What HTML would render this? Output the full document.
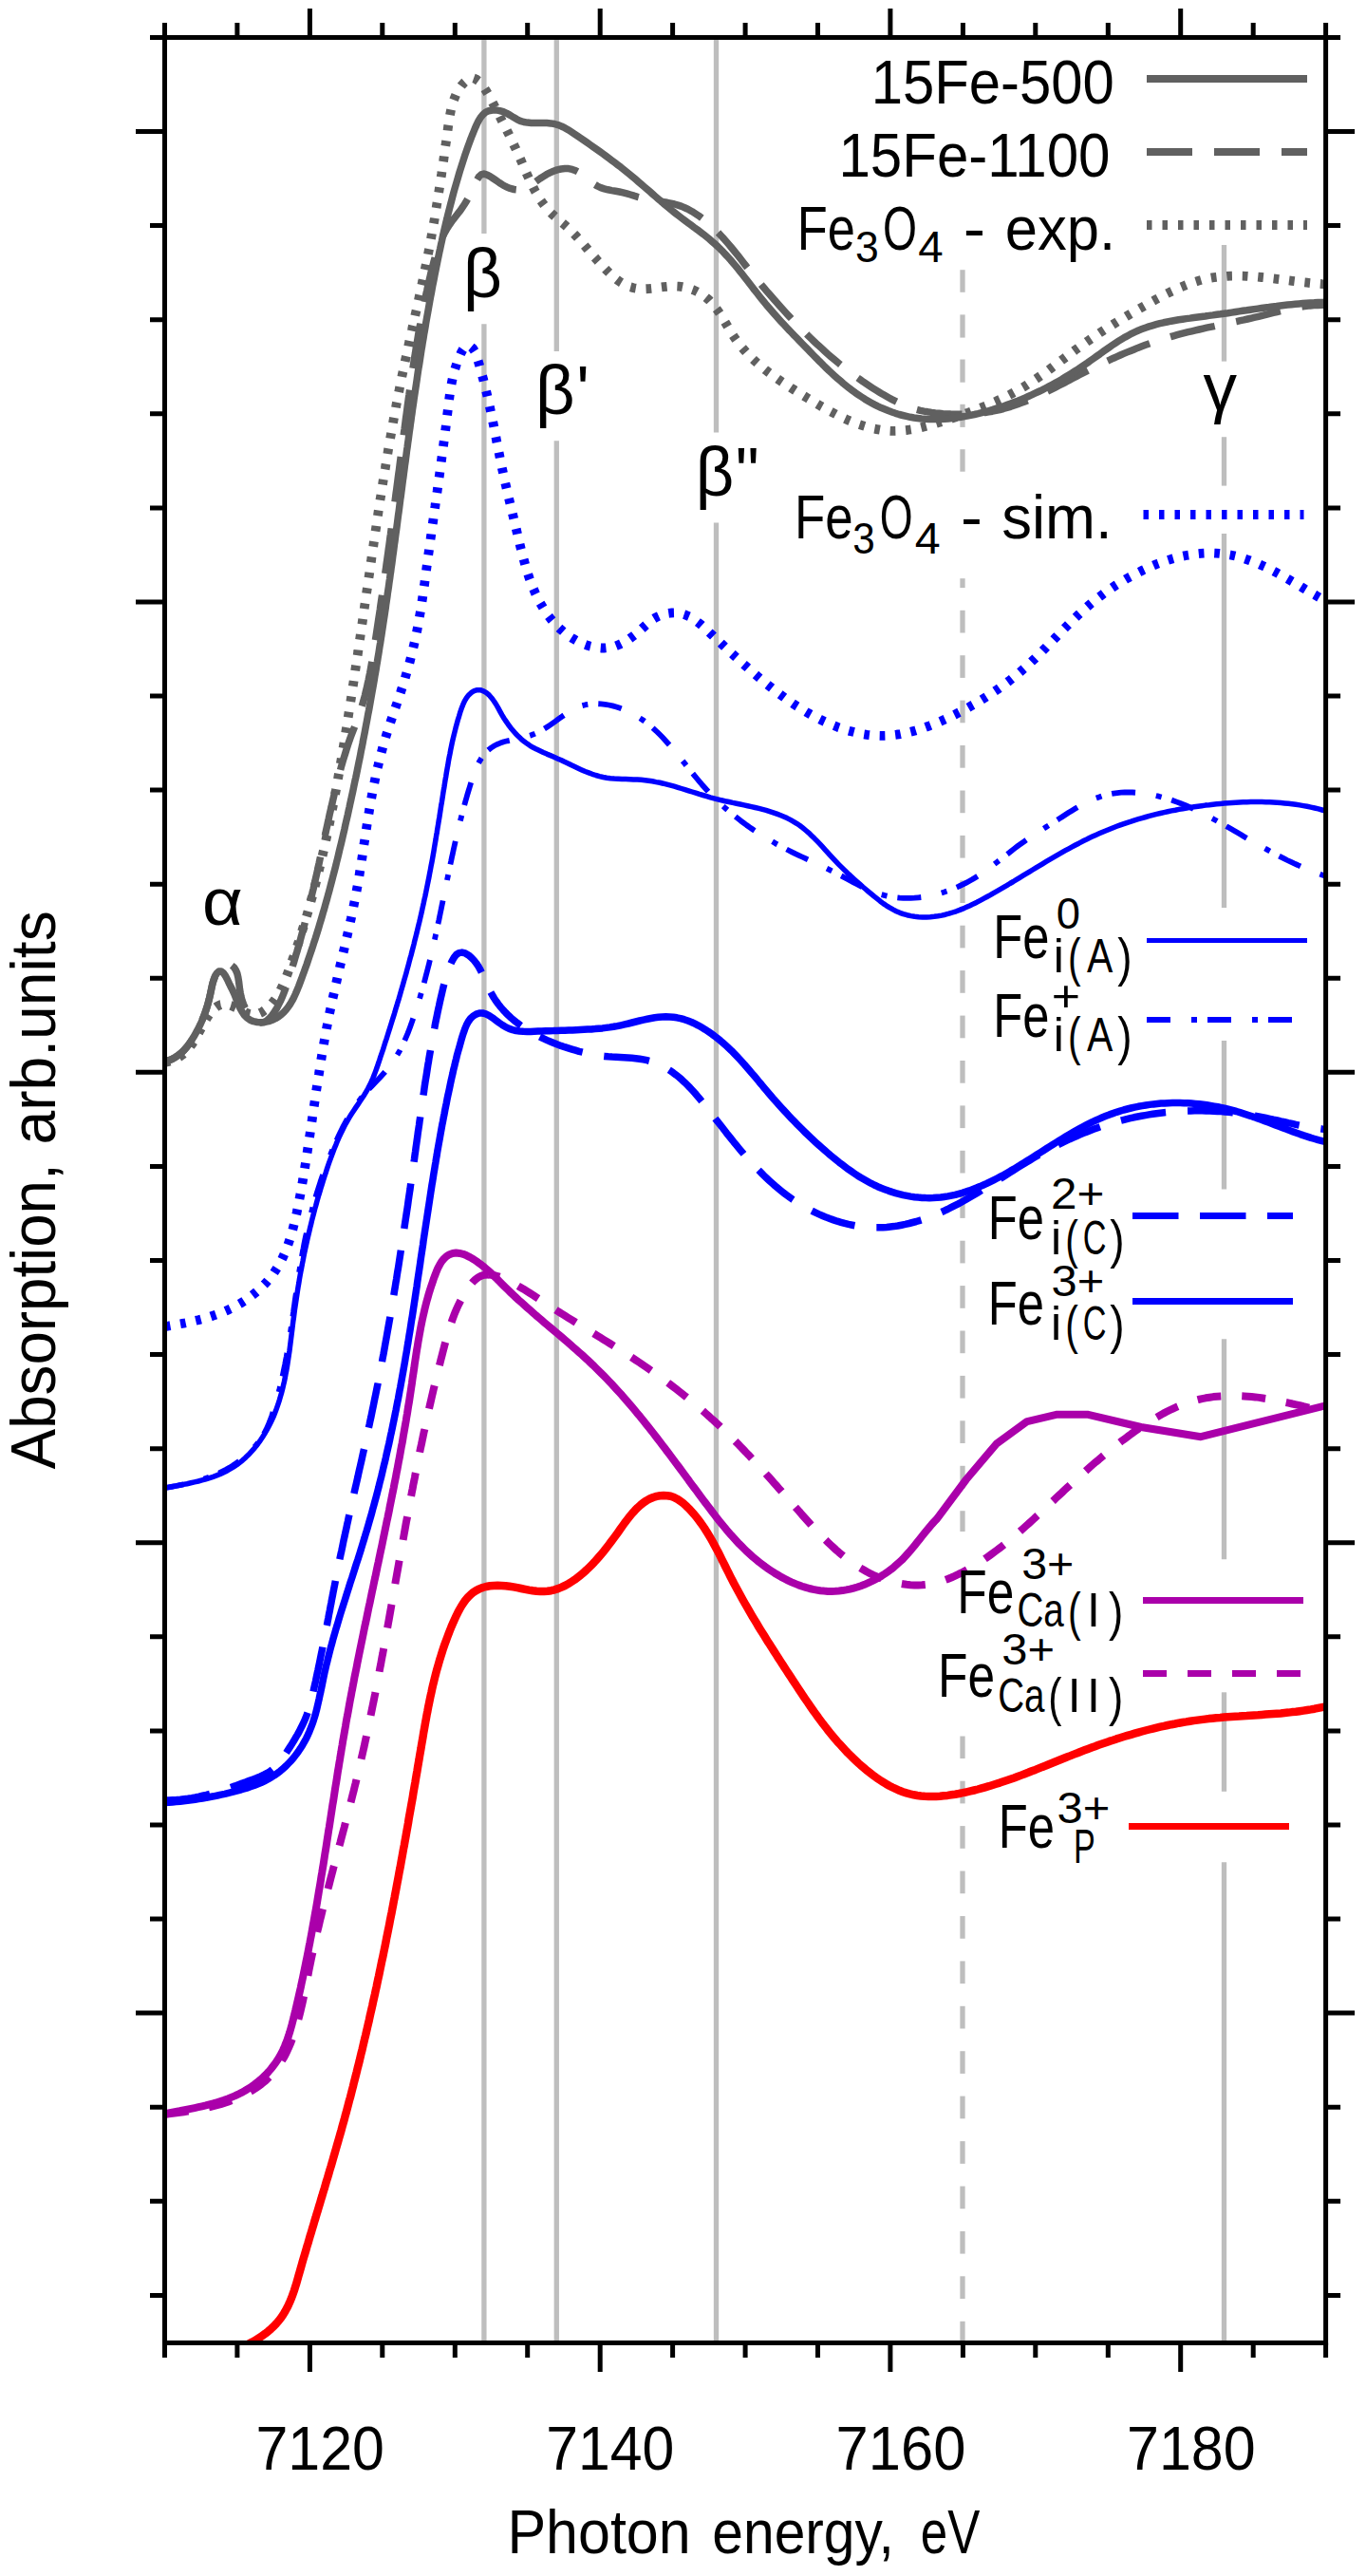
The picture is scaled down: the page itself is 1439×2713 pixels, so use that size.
<!DOCTYPE html>
<html><head><meta charset="utf-8"><title>XANES</title>
<style>html,body{margin:0;padding:0;background:#fff}svg{display:block}</style></head>
<body>
<svg width="1439" height="2713" viewBox="0 0 1439 2713" font-family='"Liberation Sans", sans-serif'>
<rect width="1439" height="2713" fill="#fff"/>
<defs><clipPath id="pc"><rect x="173.5" y="39.45" width="1223.1" height="2428.0"/></clipPath></defs>
<line x1="509.9" y1="39.5" x2="509.9" y2="246.0" stroke="#bebebe" stroke-width="5.3"/>
<line x1="509.9" y1="341.3" x2="509.9" y2="2467.4" stroke="#bebebe" stroke-width="5.3"/>
<line x1="586.3" y1="39.5" x2="586.3" y2="370.0" stroke="#bebebe" stroke-width="5.3"/>
<line x1="586.3" y1="464.3" x2="586.3" y2="2467.4" stroke="#bebebe" stroke-width="5.3"/>
<line x1="754.5" y1="39.5" x2="754.5" y2="455.5" stroke="#bebebe" stroke-width="5.3"/>
<line x1="754.5" y1="550.6" x2="754.5" y2="2467.4" stroke="#bebebe" stroke-width="5.3"/>
<line x1="1289.5" y1="258.0" x2="1289.5" y2="380.6" stroke="#bebebe" stroke-width="5.3"/>
<line x1="1289.5" y1="460.2" x2="1289.5" y2="511.6" stroke="#bebebe" stroke-width="5.3"/>
<line x1="1289.5" y1="562.1" x2="1289.5" y2="956.0" stroke="#bebebe" stroke-width="5.3"/>
<line x1="1289.5" y1="1096.0" x2="1289.5" y2="1252.5" stroke="#bebebe" stroke-width="5.3"/>
<line x1="1289.5" y1="1410.3" x2="1289.5" y2="1642.2" stroke="#bebebe" stroke-width="5.3"/>
<line x1="1289.5" y1="1782.3" x2="1289.5" y2="1886.8" stroke="#bebebe" stroke-width="5.3"/>
<line x1="1289.5" y1="1961.3" x2="1289.5" y2="2467.4" stroke="#bebebe" stroke-width="5.3"/>
<line x1="1014.0" y1="2444.8" x2="1014.0" y2="2467.4" stroke="#bebebe" stroke-width="5.3"/>
<line x1="1014.0" y1="2397.3" x2="1014.0" y2="2421.0" stroke="#bebebe" stroke-width="5.3"/>
<line x1="1014.0" y1="2349.9" x2="1014.0" y2="2373.6" stroke="#bebebe" stroke-width="5.3"/>
<line x1="1014.0" y1="2302.5" x2="1014.0" y2="2326.2" stroke="#bebebe" stroke-width="5.3"/>
<line x1="1014.0" y1="2255.1" x2="1014.0" y2="2278.8" stroke="#bebebe" stroke-width="5.3"/>
<line x1="1014.0" y1="2207.6" x2="1014.0" y2="2231.3" stroke="#bebebe" stroke-width="5.3"/>
<line x1="1014.0" y1="2160.2" x2="1014.0" y2="2183.9" stroke="#bebebe" stroke-width="5.3"/>
<line x1="1014.0" y1="2112.8" x2="1014.0" y2="2136.5" stroke="#bebebe" stroke-width="5.3"/>
<line x1="1014.0" y1="2065.4" x2="1014.0" y2="2089.1" stroke="#bebebe" stroke-width="5.3"/>
<line x1="1014.0" y1="2018.0" x2="1014.0" y2="2041.7" stroke="#bebebe" stroke-width="5.3"/>
<line x1="1014.0" y1="1970.5" x2="1014.0" y2="1994.2" stroke="#bebebe" stroke-width="5.3"/>
<line x1="1014.0" y1="1923.1" x2="1014.0" y2="1946.8" stroke="#bebebe" stroke-width="5.3"/>
<line x1="1014.0" y1="1875.7" x2="1014.0" y2="1899.4" stroke="#bebebe" stroke-width="5.3"/>
<line x1="1014.0" y1="1828.5" x2="1014.0" y2="1852.0" stroke="#bebebe" stroke-width="5.3"/>
<line x1="1014.0" y1="1591.2" x2="1014.0" y2="1613.0" stroke="#bebebe" stroke-width="5.3"/>
<line x1="1014.0" y1="1543.8" x2="1014.0" y2="1567.5" stroke="#bebebe" stroke-width="5.3"/>
<line x1="1014.0" y1="1496.3" x2="1014.0" y2="1520.0" stroke="#bebebe" stroke-width="5.3"/>
<line x1="1014.0" y1="1448.9" x2="1014.0" y2="1472.6" stroke="#bebebe" stroke-width="5.3"/>
<line x1="1014.0" y1="1401.5" x2="1014.0" y2="1425.2" stroke="#bebebe" stroke-width="5.3"/>
<line x1="1014.0" y1="1354.1" x2="1014.0" y2="1377.8" stroke="#bebebe" stroke-width="5.3"/>
<line x1="1014.0" y1="1306.7" x2="1014.0" y2="1330.4" stroke="#bebebe" stroke-width="5.3"/>
<line x1="1014.0" y1="1259.2" x2="1014.0" y2="1282.9" stroke="#bebebe" stroke-width="5.3"/>
<line x1="1014.0" y1="1211.8" x2="1014.0" y2="1235.5" stroke="#bebebe" stroke-width="5.3"/>
<line x1="1014.0" y1="1164.4" x2="1014.0" y2="1188.1" stroke="#bebebe" stroke-width="5.3"/>
<line x1="1014.0" y1="1117.0" x2="1014.0" y2="1140.7" stroke="#bebebe" stroke-width="5.3"/>
<line x1="1014.0" y1="1069.6" x2="1014.0" y2="1093.3" stroke="#bebebe" stroke-width="5.3"/>
<line x1="1014.0" y1="1022.1" x2="1014.0" y2="1045.8" stroke="#bebebe" stroke-width="5.3"/>
<line x1="1014.0" y1="974.7" x2="1014.0" y2="998.4" stroke="#bebebe" stroke-width="5.3"/>
<line x1="1014.0" y1="927.3" x2="1014.0" y2="951.0" stroke="#bebebe" stroke-width="5.3"/>
<line x1="1014.0" y1="879.9" x2="1014.0" y2="903.6" stroke="#bebebe" stroke-width="5.3"/>
<line x1="1014.0" y1="832.5" x2="1014.0" y2="856.2" stroke="#bebebe" stroke-width="5.3"/>
<line x1="1014.0" y1="785.0" x2="1014.0" y2="808.7" stroke="#bebebe" stroke-width="5.3"/>
<line x1="1014.0" y1="737.6" x2="1014.0" y2="761.3" stroke="#bebebe" stroke-width="5.3"/>
<line x1="1014.0" y1="690.2" x2="1014.0" y2="713.9" stroke="#bebebe" stroke-width="5.3"/>
<line x1="1014.0" y1="642.8" x2="1014.0" y2="666.5" stroke="#bebebe" stroke-width="5.3"/>
<line x1="1014.0" y1="609.2" x2="1014.0" y2="619.1" stroke="#bebebe" stroke-width="5.3"/>
<line x1="1014.0" y1="284.2" x2="1014.0" y2="307.8" stroke="#bebebe" stroke-width="5.3"/>
<line x1="1014.0" y1="331.4" x2="1014.0" y2="355.6" stroke="#bebebe" stroke-width="5.3"/>
<line x1="1014.0" y1="378.5" x2="1014.0" y2="402.7" stroke="#bebebe" stroke-width="5.3"/>
<line x1="1014.0" y1="425.8" x2="1014.0" y2="449.9" stroke="#bebebe" stroke-width="5.3"/>
<line x1="1014.0" y1="473.2" x2="1014.0" y2="496.7" stroke="#bebebe" stroke-width="5.3"/>
<g clip-path="url(#pc)">
<path d="M173.3,1118.9 L177.9,1117.9 L182.1,1116.5 L185.9,1114.8 L189.4,1112.8 L192.5,1110.6 L195.3,1108.1 L197.9,1105.4 L200.3,1102.4 L202.5,1099.3 L204.6,1096.1 L206.6,1092.7 L208.5,1089.2 L210.4,1085.7 L212.4,1082.1 L214.3,1078.4 L216.4,1074.7 L218.6,1071.1 L220.9,1067.7 L223.4,1064.5 L226.1,1061.8 L229.1,1059.6 L232.2,1058.2 L235.7,1057.6 L239.4,1057.9 L243.3,1059.0 L247.3,1060.7 L251.3,1062.6 L255.1,1064.6 L258.7,1066.4 L262.3,1067.8 L265.8,1068.6 L269.3,1068.5 L272.8,1067.5 L276.3,1065.8 L279.7,1063.4 L282.9,1060.6 L285.9,1057.5 L288.6,1054.2 L291.0,1050.8 L293.1,1047.3 L295.1,1043.8 L296.8,1040.2 L298.5,1036.5 L300.0,1032.8 L301.5,1029.1 L302.9,1025.4 L304.3,1021.6 L305.6,1017.9 L307.0,1014.1 L308.3,1010.4 L309.7,1006.6 L311.0,1002.9 L312.2,999.1 L313.5,995.3 L314.8,991.5 L316.0,987.7 L317.2,983.9 L318.4,980.1 L319.6,976.3 L320.8,972.5 L321.9,968.7 L323.0,964.9 L324.2,961.1 L325.3,957.2 L326.4,953.4 L327.4,949.5 L328.5,945.7 L329.5,941.9 L330.6,938.0 L331.6,934.1 L332.6,930.3 L333.6,926.4 L334.5,922.6 L335.5,918.7 L336.4,914.8 L337.4,910.9 L338.3,907.0 L339.2,903.1 L340.1,899.3 L341.0,895.4 L341.9,891.5 L342.7,887.6 L343.6,883.7 L344.4,879.8 L345.3,875.8 L346.1,871.9 L346.9,868.0 L347.7,864.1 L348.5,860.2 L349.3,856.3 L350.0,852.3 L350.8,848.4 L351.6,844.5 L352.3,840.5 L353.0,836.6 L353.8,832.7 L354.5,828.7 L355.2,824.8 L355.9,820.9 L356.6,816.9 L357.3,813.0 L358.0,809.0 L358.7,805.1 L359.4,801.1 L360.0,797.2 L360.7,793.2 L361.3,789.3 L362.0,785.3 L362.6,781.4 L363.3,777.4 L363.9,773.5 L364.5,769.5 L365.2,765.6 L365.8,761.6 L366.4,757.6 L367.0,753.7 L367.6,749.7 L368.3,745.8 L368.9,741.8 L369.5,737.9 L370.1,733.9 L370.7,730.0 L371.3,726.0 L371.9,722.0 L372.5,718.1 L373.1,714.1 L373.7,710.2 L374.2,706.2 L374.8,702.3 L375.4,698.3 L376.0,694.4 L376.6,690.4 L377.2,686.5 L377.7,682.5 L378.3,678.6 L378.9,674.6 L379.5,670.6 L380.0,666.7 L380.6,662.7 L381.2,658.8 L381.8,654.8 L382.3,650.9 L382.9,646.9 L383.5,643.0 L384.0,639.0 L384.6,635.1 L385.2,631.1 L385.8,627.2 L386.3,623.2 L386.9,619.2 L387.5,615.3 L388.0,611.3 L388.6,607.4 L389.2,603.4 L389.7,599.5 L390.3,595.5 L390.9,591.6 L391.4,587.6 L392.0,583.7 L392.6,579.7 L393.2,575.7 L393.7,571.8 L394.3,567.8 L394.9,563.9 L395.5,559.9 L396.1,556.0 L396.7,552.0 L397.2,548.1 L397.8,544.1 L398.4,540.2 L399.0,536.2 L399.6,532.3 L400.2,528.3 L400.8,524.4 L401.5,520.4 L402.1,516.5 L402.7,512.5 L403.3,508.6 L403.9,504.6 L404.6,500.7 L405.2,496.7 L405.9,492.8 L406.5,488.8 L407.2,484.9 L407.8,481.0 L408.5,477.0 L409.1,473.1 L409.8,469.1 L410.5,465.2 L411.2,461.3 L411.9,457.3 L412.6,453.4 L413.3,449.4 L414.0,445.5 L414.7,441.6 L415.4,437.6 L416.1,433.7 L416.9,429.8 L417.6,425.8 L418.4,421.9 L419.1,418.0 L419.9,414.1 L420.7,410.1 L421.4,406.2 L422.2,402.3 L423.0,398.4 L423.8,394.5 L424.7,390.5 L425.5,386.6 L426.3,382.7 L427.1,378.8 L428.0,374.9 L428.8,371.0 L429.7,367.1 L430.5,363.1 L431.4,359.2 L432.2,355.3 L433.1,351.4 L434.0,347.5 L434.8,343.6 L435.7,339.7 L436.6,335.8 L437.4,331.9 L438.3,328.0 L439.2,324.1 L440.0,320.2 L440.9,316.3 L441.7,312.4 L442.6,308.5 L443.4,304.5 L444.2,300.6 L445.1,296.7 L445.9,292.8 L446.7,288.9 L447.5,285.0 L448.3,281.1 L449.1,277.2 L449.9,273.3 L450.7,269.4 L451.4,265.5 L452.2,261.6 L452.9,257.7 L453.6,253.8 L454.3,249.9 L455.0,245.9 L455.7,242.0 L456.4,238.1 L457.1,234.2 L457.8,230.3 L458.4,226.3 L459.1,222.4 L459.7,218.5 L460.3,214.6 L461.0,210.6 L461.6,206.7 L462.2,202.7 L462.8,198.8 L463.4,194.8 L464.0,190.9 L464.6,186.9 L465.2,182.9 L465.7,178.9 L466.3,175.0 L466.9,171.0 L467.5,167.0 L468.0,163.0 L468.6,159.0 L469.1,154.9 L469.7,150.9 L470.3,146.9 L470.8,142.8 L471.4,138.8 L471.9,134.7 L472.5,130.7 L473.1,126.6 L473.7,122.6 L474.5,118.6 L475.3,114.6 L476.3,110.8 L477.4,107.0 L478.8,103.3 L480.3,99.7 L482.1,96.2 L484.2,92.9 L486.5,89.7 L489.2,86.7 L492.1,84.2 L495.1,82.5 L498.2,82.2 L501.3,83.3 L504.3,85.5 L507.2,88.6 L509.8,92.2 L512.3,96.0 L514.5,99.7 L516.6,103.5 L518.5,107.1 L520.4,110.8 L522.2,114.4 L524.1,118.0 L525.9,121.5 L527.7,125.1 L529.5,128.6 L531.3,132.1 L533.1,135.6 L534.8,139.1 L536.6,142.6 L538.3,146.2 L540.0,149.7 L541.7,153.3 L543.4,156.8 L545.0,160.4 L546.7,164.1 L548.3,167.7 L549.9,171.4 L551.5,175.1 L553.1,178.9 L554.7,182.6 L556.4,186.3 L558.1,190.0 L559.9,193.7 L561.7,197.3 L563.5,200.9 L565.5,204.4 L567.6,207.8 L569.7,211.2 L572.0,214.4 L574.4,217.6 L577.0,220.6 L579.7,223.5 L582.5,226.3 L585.5,228.9 L588.6,231.5 L591.6,234.1 L594.7,236.7 L597.6,239.3 L600.4,242.1 L603.2,244.9 L606.0,247.7 L608.7,250.6 L611.3,253.6 L613.9,256.5 L616.5,259.5 L619.1,262.5 L621.7,265.6 L624.3,268.6 L627.0,271.6 L629.6,274.6 L632.3,277.6 L635.1,280.6 L637.9,283.5 L640.8,286.4 L643.7,289.3 L646.8,292.0 L649.9,294.5 L653.2,296.9 L656.5,298.9 L660.0,300.7 L663.6,302.2 L667.4,303.2 L671.3,303.9 L675.2,304.2 L679.2,304.3 L683.2,304.1 L687.2,303.7 L691.1,303.2 L695.1,302.7 L699.0,302.2 L702.9,301.8 L706.8,301.5 L710.8,301.4 L714.8,301.6 L718.8,302.1 L722.7,302.9 L726.6,304.0 L730.5,305.4 L734.2,307.1 L737.8,309.0 L741.2,311.2 L744.3,313.7 L747.3,316.3 L750.0,319.2 L752.6,322.3 L755.0,325.5 L757.3,328.8 L759.6,332.2 L761.7,335.7 L763.8,339.3 L765.9,342.8 L768.0,346.4 L770.1,349.9 L772.3,353.3 L774.5,356.6 L776.8,359.8 L779.3,363.0 L781.7,366.0 L784.3,369.0 L786.9,371.9 L789.6,374.7 L792.4,377.4 L795.2,380.1 L798.1,382.7 L801.1,385.2 L804.1,387.7 L807.1,390.2 L810.2,392.6 L813.4,394.9 L816.6,397.2 L819.8,399.5 L823.1,401.8 L826.4,404.0 L829.8,406.2 L833.1,408.4 L836.5,410.5 L840.0,412.7 L843.4,414.8 L846.9,417.0 L850.4,419.1 L853.9,421.2 L857.4,423.4 L861.0,425.5 L864.5,427.6 L868.1,429.6 L871.7,431.6 L875.3,433.6 L879.0,435.5 L882.6,437.4 L886.3,439.2 L889.9,440.9 L893.6,442.6 L897.3,444.1 L901.0,445.6 L904.8,447.0 L908.5,448.2 L912.3,449.4 L916.1,450.4 L919.8,451.4 L923.6,452.1 L927.5,452.8 L931.3,453.3 L935.1,453.7 L939.0,453.9 L942.8,453.9 L946.7,453.8 L950.6,453.5 L954.5,453.1 L958.4,452.5 L962.3,451.9 L966.2,451.1 L970.1,450.3 L974.0,449.3 L977.9,448.3 L981.8,447.2 L985.6,446.1 L989.5,444.9 L993.4,443.7 L997.3,442.4 L1001.1,441.2 L1005.0,439.9 L1008.8,438.6 L1012.6,437.3 L1016.4,435.9 L1020.2,434.6 L1023.9,433.2 L1027.7,431.7 L1031.4,430.3 L1035.1,428.8 L1038.8,427.3 L1042.5,425.7 L1046.1,424.1 L1049.7,422.5 L1053.3,420.8 L1056.9,419.1 L1060.5,417.3 L1064.0,415.5 L1067.5,413.6 L1071.0,411.7 L1074.4,409.8 L1077.9,407.8 L1081.3,405.7 L1084.6,403.5 L1088.0,401.4 L1091.3,399.1 L1094.6,396.9 L1097.9,394.6 L1101.1,392.2 L1104.4,389.9 L1107.6,387.5 L1110.8,385.1 L1114.0,382.7 L1117.3,380.3 L1120.5,377.8 L1123.7,375.4 L1126.9,373.0 L1130.1,370.6 L1133.3,368.2 L1136.5,365.9 L1139.8,363.5 L1143.0,361.2 L1146.3,358.9 L1149.5,356.7 L1152.8,354.4 L1156.1,352.2 L1159.4,350.0 L1162.7,347.9 L1166.1,345.7 L1169.4,343.6 L1172.8,341.5 L1176.2,339.4 L1179.5,337.3 L1182.9,335.3 L1186.4,333.2 L1189.8,331.2 L1193.2,329.2 L1196.7,327.2 L1200.2,325.2 L1203.7,323.2 L1207.2,321.2 L1210.7,319.2 L1214.2,317.3 L1217.8,315.3 L1221.4,313.4 L1225.0,311.5 L1228.6,309.6 L1232.2,307.8 L1235.8,306.1 L1239.5,304.4 L1243.2,302.7 L1246.9,301.2 L1250.6,299.7 L1254.4,298.3 L1258.1,297.1 L1261.9,295.9 L1265.7,294.8 L1269.5,293.9 L1273.4,293.1 L1277.3,292.4 L1281.2,291.9 L1285.1,291.4 L1289.0,291.1 L1292.9,290.8 L1296.9,290.7 L1300.9,290.6 L1304.8,290.6 L1308.8,290.7 L1312.8,290.8 L1316.8,291.1 L1320.8,291.3 L1324.9,291.6 L1328.9,292.0 L1332.9,292.4 L1336.9,292.9 L1340.9,293.3 L1345.0,293.8 L1349.0,294.3 L1353.0,294.8 L1357.0,295.3 L1361.0,295.8 L1365.0,296.3 L1369.0,296.8 L1372.9,297.3 L1376.9,297.7 L1380.8,298.1 L1384.8,298.5 L1388.7,298.8 L1392.6,299.1 L1396.4,299.3" fill="none" stroke="#606060" stroke-width="9.8" stroke-linejoin="round" stroke-linecap="butt" stroke-dasharray="5.7 10.8" stroke-dashoffset="0"/>
<path d="M173.6,1118.0 L177.7,1116.7 L181.5,1115.2 L185.0,1113.2 L188.2,1111.0 L191.3,1108.5 L194.1,1105.8 L196.7,1102.8 L199.1,1099.7 L201.4,1096.5 L203.6,1093.1 L205.6,1089.6 L207.5,1086.0 L209.3,1082.5 L211.0,1078.8 L212.7,1075.2 L214.2,1071.5 L215.6,1067.7 L216.9,1064.0 L218.2,1060.2 L219.3,1056.3 L220.3,1052.5 L221.2,1048.6 L222.1,1044.7 L222.9,1040.7 L223.7,1036.9 L224.8,1033.1 L226.2,1029.4 L228.0,1026.0 L230.4,1022.7 L233.4,1019.7 L237.0,1017.3 L240.6,1016.1 L243.8,1016.6 L246.4,1018.6 L248.4,1021.7 L249.9,1025.3 L250.8,1029.2 L251.5,1033.3 L252.0,1037.4 L252.5,1041.6 L253.2,1045.7 L254.0,1049.7 L255.0,1053.6 L256.4,1057.4 L258.0,1061.0 L259.9,1064.5 L262.2,1067.8 L264.8,1070.9 L267.9,1073.8 L271.2,1076.1 L274.6,1077.1 L277.8,1076.6 L281.0,1075.0 L283.9,1072.4 L286.7,1069.2 L289.2,1065.6 L291.5,1061.9 L293.5,1058.1 L295.4,1054.4 L297.0,1050.8 L298.5,1047.1 L299.9,1043.4 L301.2,1039.7 L302.4,1036.0 L303.6,1032.3 L304.8,1028.6 L306.0,1024.9 L307.2,1021.1 L308.3,1017.3 L309.5,1013.6 L310.6,1009.8 L311.7,1005.9 L312.9,1002.1 L314.0,998.3 L315.1,994.4 L316.2,990.6 L317.2,986.7 L318.3,982.9 L319.3,979.0 L320.4,975.1 L321.4,971.2 L322.4,967.3 L323.4,963.4 L324.4,959.5 L325.4,955.6 L326.3,951.7 L327.3,947.8 L328.2,943.9 L329.1,940.0 L330.1,936.1 L331.0,932.2 L331.8,928.3 L332.7,924.4 L333.6,920.5 L334.5,916.6 L335.3,912.7 L336.2,908.8 L337.0,904.9 L337.9,901.0 L338.7,897.1 L339.5,893.3 L340.4,889.4 L341.2,885.5 L342.0,881.6 L342.9,877.7 L343.7,873.8 L344.6,869.9 L345.4,866.0 L346.3,862.1 L347.1,858.2 L348.0,854.4 L348.9,850.5 L349.8,846.6 L350.7,842.7 L351.6,838.8 L352.5,834.9 L353.4,831.0 L354.4,827.2 L355.4,823.3 L356.3,819.4 L357.4,815.5 L358.4,811.7 L359.4,807.8 L360.5,804.0 L361.6,800.1 L362.8,796.3 L364.0,792.5 L365.2,788.6 L366.4,784.8 L367.7,781.1 L369.0,777.3 L370.4,773.5 L371.8,769.8 L373.3,766.1 L374.7,762.4 L376.1,758.6 L377.5,754.9 L378.8,751.1 L380.1,747.4 L381.3,743.6 L382.4,739.7 L383.5,735.9 L384.5,732.1 L385.4,728.2 L386.4,724.3 L387.2,720.4 L388.1,716.5 L388.9,712.6 L389.7,708.7 L390.4,704.8 L391.1,700.8 L391.8,696.9 L392.5,692.9 L393.1,689.0 L393.7,685.0 L394.4,681.1 L395.0,677.1 L395.6,673.1 L396.2,669.2 L396.8,665.2 L397.4,661.3 L398.0,657.3 L398.6,653.4 L399.2,649.4 L399.8,645.5 L400.4,641.5 L400.9,637.5 L401.5,633.6 L402.1,629.6 L402.7,625.7 L403.2,621.7 L403.8,617.8 L404.4,613.8 L404.9,609.9 L405.5,605.9 L406.0,602.0 L406.6,598.0 L407.1,594.1 L407.7,590.1 L408.2,586.2 L408.8,582.2 L409.3,578.3 L409.9,574.3 L410.4,570.4 L410.9,566.4 L411.5,562.5 L412.0,558.5 L412.5,554.6 L413.1,550.6 L413.6,546.7 L414.1,542.7 L414.6,538.8" fill="none" stroke="#606060" stroke-width="7.5" stroke-linejoin="round" stroke-dasharray="48 23" stroke-dashoffset="10.0"/>
<path d="M414.6,538.8 L415.2,534.8 L415.7,530.8 L416.2,526.9 L416.7,522.9 L417.2,519.0 L417.8,515.0 L418.3,511.1 L418.8,507.1 L419.3,503.2 L419.8,499.2 L420.4,495.2 L420.9,491.3 L421.4,487.3 L421.9,483.4 L422.4,479.4 L422.9,475.5 L423.5,471.5 L424.0,467.5 L424.5,463.6 L425.0,459.6 L425.5,455.6 L426.1,451.7 L426.6,447.7 L427.1,443.7 L427.6,439.8 L428.2,435.8 L428.7,431.9 L429.2,427.9 L429.8,423.9 L430.3,420.0 L430.9,416.0 L431.4,412.0 L432.0,408.1 L432.6,404.1 L433.1,400.2 L433.7,396.2 L434.3,392.2 L434.9,388.3 L435.5,384.3 L436.1,380.4 L436.7,376.4 L437.4,372.5 L438.0,368.5 L438.6,364.6 L439.3,360.7 L440.0,356.7 L440.6,352.8 L441.3,348.8 L442.0,344.9 L442.8,341.0 L443.5,337.1 L444.2,333.1 L445.0,329.2 L445.7,325.3 L446.5,321.4 L447.3,317.5 L448.1,313.6 L448.9,309.7 L449.8,305.8 L450.6,301.9 L451.5,298.0 L452.4,294.1 L453.3,290.3 L454.2,286.4 L455.2,282.5 L456.2,278.7 L457.2,274.8 L458.3,271.0 L459.4,267.2 L460.7,263.4 L462.0,259.7 L463.4,256.0 L465.0,252.3 L466.6,248.7 L468.4,245.1 L470.4,241.6 L472.5,238.2 L474.8,234.8 L477.3,231.4 L479.8,228.2 L482.3,224.9 L484.8,221.8 L487.0,218.6 L489.1,215.5 L491.1,212.3 L493.0,209.0 L494.9,205.6 L496.7,201.9 L498.5,198.0 L500.3,193.9 L502.3,189.8 L504.4,186.3 L506.9,183.9 L509.8,183.1 L513.1,184.1 L516.4,185.9 L519.6,188.0 L522.8,190.2 L526.1,192.5 L529.5,194.7 L533.3,196.8 L537.4,198.4 L541.6,199.5 L545.6,199.9 L549.3,199.5 L552.9,198.5 L556.2,196.8 L559.4,194.8 L562.6,192.6 L565.8,190.3 L569.0,188.0 L572.4,185.8 L575.8,183.7 L579.4,181.9 L583.1,180.3 L587.0,178.9 L591.0,178.0 L595.0,177.5 L599.0,177.6 L602.8,178.4 L606.6,179.8 L610.1,181.6 L613.5,183.9 L616.7,186.4 L619.8,189.0 L622.8,191.6 L626.0,194.0 L629.3,196.0 L632.8,197.7 L636.6,198.9 L640.4,199.8 L644.4,200.6 L648.4,201.3 L652.4,202.0 L656.4,202.9 L660.3,203.9 L664.1,205.0 L667.9,206.2 L671.7,207.3 L675.5,208.3 L679.4,209.2 L683.3,210.0 L687.2,210.7 L691.1,211.3 L695.0,211.9 L698.9,212.6 L702.8,213.3 L706.7,214.1 L710.5,215.0 L714.3,216.1 L718.1,217.4 L721.8,219.0 L725.4,220.7 L729.0,222.7 L732.4,224.9 L735.8,227.1 L739.1,229.6 L742.3,232.1 L745.4,234.6 L748.5,237.3 L751.4,240.0 L754.3,242.8 L757.1,245.6 L759.8,248.5 L762.5,251.4 L765.1,254.4 L767.7,257.4 L770.3,260.5 L772.8,263.5 L775.3,266.6 L777.8,269.7 L780.2,272.8 L782.7,276.0 L785.1,279.1 L787.6,282.2 L790.1,285.3 L792.6,288.4 L795.1,291.5 L797.6,294.6 L800.2,297.6 L802.7,300.7 L805.3,303.7 L807.9,306.8 L810.5,309.8 L813.1,312.8 L815.7,315.8 L818.4,318.8 L821.0,321.8 L823.7,324.8 L826.4,327.7 L829.1,330.7 L831.8,333.6 L834.6,336.5 L837.3,339.4 L840.1,342.3 L842.9,345.2 L845.7,348.0 L848.6,350.8 L851.4,353.6 L854.3,356.4 L857.2,359.2 L860.1,361.9 L863.0,364.6 L866.0,367.3 L868.9,370.0 L871.9,372.7 L874.9,375.3 L878.0,377.9 L881.0,380.4 L884.1,383.0 L887.2,385.5 L890.3,388.0 L893.5,390.4 L896.6,392.8 L899.8,395.2 L903.0,397.6 L906.3,399.9 L909.5,402.2 L912.8,404.4 L916.1,406.6 L919.5,408.8 L922.8,410.9 L926.2,413.0 L929.6,415.1 L933.1,417.1 L936.5,419.0 L940.0,420.9 L943.6,422.7 L947.1,424.4 L950.8,426.0 L954.4,427.5 L958.1,428.9 L961.9,430.2 L965.6,431.3 L969.5,432.3 L973.4,433.1 L977.3,433.8 L981.3,434.4 L985.3,434.9 L989.3,435.3 L993.3,435.7 L997.3,435.9 L1001.4,436.1 L1005.4,436.2 L1009.5,436.3 L1013.5,436.3 L1017.6,436.2 L1021.6,436.0 L1025.6,435.8 L1029.6,435.5 L1033.6,435.0 L1037.6,434.5 L1041.5,433.9 L1045.4,433.2 L1049.3,432.4 L1053.2,431.5 L1057.0,430.5 L1060.8,429.4 L1064.6,428.3 L1068.3,427.0 L1072.1,425.7 L1075.8,424.3 L1079.5,422.9 L1083.2,421.4 L1086.8,419.9 L1090.5,418.3 L1094.1,416.6 L1097.8,414.9 L1101.4,413.2 L1105.0,411.4 L1108.6,409.6 L1112.1,407.8 L1115.7,406.0 L1119.3,404.1 L1122.9,402.3 L1126.4,400.4 L1130.0,398.5 L1133.6,396.7 L1137.1,394.8 L1140.7,392.9 L1144.3,391.1 L1147.8,389.3 L1151.4,387.5 L1155.0,385.7 L1158.6,384.0 L1162.2,382.2 L1165.8,380.5 L1169.4,378.9 L1173.0,377.2 L1176.6,375.6 L1180.2,374.0 L1183.9,372.4 L1187.5,370.9 L1191.2,369.4 L1194.9,367.9 L1198.5,366.4 L1202.2,365.0 L1206.0,363.6 L1209.7,362.3 L1213.4,361.0 L1217.2,359.7 L1220.9,358.4 L1224.7,357.2 L1228.5,356.0 L1232.3,354.9 L1236.1,353.8 L1240.0,352.7 L1243.8,351.7 L1247.7,350.7 L1251.6,349.7 L1255.5,348.8 L1259.4,347.9 L1263.3,347.0 L1267.2,346.1 L1271.1,345.2 L1275.0,344.4 L1279.0,343.6 L1282.9,342.7 L1286.8,341.9 L1290.8,341.1 L1294.7,340.2 L1298.6,339.4 L1302.6,338.6 L1306.5,337.7 L1310.4,336.9 L1314.3,336.0 L1318.2,335.1 L1322.1,334.2 L1325.9,333.3 L1329.8,332.3 L1333.7,331.4 L1337.5,330.4 L1341.3,329.4 L1345.2,328.5 L1349.0,327.6 L1352.9,326.7 L1356.7,325.8 L1360.6,325.0 L1364.5,324.2 L1368.4,323.5 L1372.4,322.9 L1376.3,322.4 L1380.3,321.9 L1384.3,321.6 L1388.4,321.4 L1392.5,321.2 L1396.6,321.2" fill="none" stroke="#606060" stroke-width="7.5" stroke-linejoin="round" stroke-dasharray="48 23" stroke-dashoffset="60.7"/>
<path d="M173.7,1117.9 L177.7,1116.9 L181.4,1115.4 L184.9,1113.5 L188.2,1111.2 L191.3,1108.7 L194.1,1105.8 L196.8,1102.7 L199.2,1099.4 L201.5,1096.1 L203.7,1092.6 L205.7,1089.1 L207.6,1085.6 L209.4,1082.1 L211.1,1078.7 L212.7,1075.2 L214.1,1071.7 L215.5,1068.1 L216.8,1064.5 L218.0,1060.7 L219.1,1056.9 L220.2,1052.8 L221.2,1048.7 L222.1,1044.3 L223.0,1039.8 L224.0,1035.5 L225.2,1031.5 L226.6,1027.9 L228.4,1025.1 L230.6,1023.1 L233.0,1022.9 L235.3,1024.7 L237.6,1028.0 L239.7,1032.0 L241.6,1036.1 L243.4,1039.7 L245.0,1042.9 L246.5,1046.2 L248.0,1049.9 L249.5,1053.8 L251.2,1057.9 L253.0,1061.9 L255.1,1065.7 L257.4,1069.1 L260.2,1072.0 L263.4,1074.2 L267.0,1075.7 L270.9,1076.5 L275.0,1076.7 L279.1,1076.4 L283.1,1075.6 L286.8,1074.3 L290.2,1072.7 L293.4,1070.8 L296.3,1068.6 L299.0,1066.1 L301.5,1063.3 L303.8,1060.3 L305.9,1057.1 L307.9,1053.7 L309.7,1050.2 L311.4,1046.5 L313.0,1042.7 L314.6,1038.9 L316.0,1035.1 L317.5,1031.2 L318.9,1027.3 L320.3,1023.4 L321.7,1019.5 L323.1,1015.7 L324.4,1011.8 L325.7,1007.9 L327.0,1004.1 L328.3,1000.2 L329.6,996.4 L330.8,992.5 L332.1,988.7 L333.3,984.8 L334.5,981.0 L335.7,977.1 L336.8,973.3 L338.0,969.4 L339.1,965.6 L340.2,961.7 L341.4,957.9 L342.4,954.1 L343.5,950.2 L344.6,946.4 L345.6,942.6 L346.7,938.7 L347.7,934.9 L348.7,931.0 L349.7,927.2 L350.7,923.4 L351.7,919.5 L352.7,915.7 L353.7,911.8 L354.6,908.0 L355.6,904.1 L356.5,900.3 L357.4,896.4 L358.3,892.6 L359.3,888.7 L360.2,884.9 L361.1,881.0 L362.0,877.1 L362.9,873.3 L363.7,869.4 L364.6,865.5 L365.5,861.6 L366.4,857.8 L367.2,853.9 L368.1,850.0 L368.9,846.1 L369.8,842.2 L370.6,838.3 L371.5,834.4 L372.3,830.5 L373.1,826.6 L373.9,822.7 L374.8,818.8 L375.6,814.9 L376.4,810.9 L377.2,807.0 L378.0,803.1 L378.8,799.2 L379.6,795.2 L380.3,791.3 L381.1,787.4 L381.9,783.5 L382.6,779.5 L383.4,775.6 L384.2,771.6 L384.9,767.7 L385.6,763.8 L386.4,759.8 L387.1,755.9 L387.8,751.9 L388.6,748.0 L389.3,744.0 L390.0,740.1 L390.7,736.1 L391.4,732.2 L392.1,728.2 L392.8,724.3 L393.5,720.3 L394.2,716.4 L394.8,712.4 L395.5,708.5 L396.2,704.5 L396.8,700.5 L397.5,696.6 L398.1,692.6 L398.8,688.7 L399.4,684.7 L400.0,680.8 L400.7,676.8 L401.3,672.8 L401.9,668.9 L402.5,664.9 L403.1,661.0 L403.7,657.0 L404.3,653.0 L404.9,649.1 L405.5,645.1 L406.1,641.2 L406.6,637.2 L407.2,633.2 L407.8,629.3 L408.3,625.3 L408.9,621.4 L409.5,617.4 L410.0,613.4 L410.6,609.5 L411.1,605.5 L411.7,601.6 L412.2,597.6 L412.8,593.6 L413.3,589.7 L413.8,585.7 L414.4,581.8 L414.9,577.8 L415.4,573.8 L416.0,569.9 L416.5,565.9 L417.0,562.0 L417.6,558.0 L418.1,554.1 L418.6,550.1 L419.1,546.1 L419.6,542.2 L420.2,538.2 L420.7,534.3 L421.2,530.3 L421.7,526.3 L422.3,522.4 L422.8,518.4 L423.3,514.5 L423.8,510.5 L424.3,506.6 L424.9,502.6 L425.4,498.6 L425.9,494.7 L426.4,490.7 L427.0,486.8 L427.5,482.8 L428.0,478.9 L428.5,474.9 L429.1,471.0 L429.6,467.0 L430.2,463.0 L430.7,459.1 L431.2,455.1 L431.8,451.2 L432.3,447.2 L432.9,443.3 L433.4,439.3 L434.0,435.4 L434.5,431.4 L435.1,427.5 L435.7,423.5 L436.2,419.6 L436.8,415.6 L437.4,411.7 L438.0,407.7 L438.6,403.8 L439.2,399.8 L439.7,395.9 L440.3,391.9 L440.9,388.0 L441.6,384.0 L442.2,380.1 L442.8,376.1 L443.4,372.2 L444.0,368.2 L444.7,364.3 L445.3,360.3 L446.0,356.4 L446.6,352.4 L447.3,348.5 L448.0,344.5 L448.6,340.6 L449.3,336.7 L450.0,332.7 L450.7,328.8 L451.4,324.8 L452.1,320.9 L452.8,316.9 L453.5,313.0 L454.3,309.1 L455.0,305.1 L455.7,301.2 L456.5,297.2 L457.3,293.3 L458.0,289.4 L458.8,285.4 L459.6,281.5 L460.4,277.5 L461.2,273.6 L462.0,269.7 L462.8,265.7 L463.7,261.8 L464.5,257.9 L465.4,254.0 L466.2,250.0 L467.1,246.1 L468.0,242.2 L468.9,238.3 L469.8,234.4 L470.8,230.5 L471.7,226.6 L472.7,222.8 L473.7,218.9 L474.7,215.0 L475.7,211.2 L476.7,207.3 L477.7,203.5 L478.8,199.6 L479.9,195.8 L481.0,192.0 L482.1,188.2 L483.2,184.4 L484.3,180.6 L485.5,176.9 L486.7,173.1 L487.9,169.4 L489.1,165.6 L490.3,161.9 L491.6,158.2 L492.9,154.5 L494.3,150.7 L495.7,146.9 L497.2,143.0 L498.8,139.1 L500.4,135.1 L502.2,131.1 L504.1,127.2 L506.3,123.6 L508.8,120.6 L511.7,118.2 L514.9,116.7 L518.6,116.0 L522.4,115.9 L526.3,116.6 L530.2,117.7 L533.9,119.4 L537.5,121.4 L541.0,123.6 L544.4,125.6 L548.0,127.3 L551.8,128.5 L555.6,129.1 L559.6,129.5 L563.7,129.6 L567.8,129.6 L572.0,129.6 L576.1,129.6 L580.1,129.9 L584.0,130.5 L587.8,131.6 L591.4,133.0 L595.0,134.7 L598.5,136.7 L601.9,138.9 L605.2,141.1 L608.6,143.4 L611.9,145.6 L615.2,147.9 L618.5,150.2 L621.8,152.5 L625.1,154.8 L628.4,157.1 L631.6,159.4 L634.9,161.8 L638.1,164.1 L641.3,166.5 L644.5,168.9 L647.7,171.3 L650.8,173.7 L654.0,176.1 L657.1,178.6 L660.2,181.1 L663.3,183.6 L666.3,186.1 L669.4,188.7 L672.4,191.3 L675.4,193.9 L678.4,196.5 L681.5,199.1 L684.5,201.7 L687.5,204.4 L690.5,207.0 L693.5,209.6 L696.6,212.2 L699.6,214.8 L702.7,217.4 L705.7,219.9 L708.8,222.5 L712.0,225.0 L715.1,227.4 L718.3,229.9 L721.5,232.3 L724.8,234.7 L728.0,237.1 L731.2,239.5 L734.5,241.8 L737.7,244.3 L740.9,246.7 L744.0,249.2 L747.1,251.7 L750.1,254.3 L753.1,256.9 L756.1,259.6 L758.9,262.4 L761.7,265.2 L764.4,268.1 L767.1,271.0 L769.8,274.0 L772.4,277.1 L775.0,280.1 L777.5,283.2 L780.0,286.4 L782.5,289.5 L785.0,292.7 L787.4,295.8 L789.9,299.0 L792.4,302.2 L794.8,305.4 L797.3,308.5 L799.8,311.7 L802.3,314.8 L804.8,317.9 L807.3,321.0 L809.9,324.0 L812.5,327.0 L815.1,330.0 L817.8,333.0 L820.4,335.9 L823.1,338.9 L825.8,341.8 L828.5,344.7 L831.2,347.6 L834.0,350.5 L836.7,353.4 L839.5,356.2 L842.3,359.1 L845.1,362.0 L847.9,364.8 L850.7,367.7 L853.5,370.6 L856.3,373.5 L859.1,376.3 L861.9,379.2 L864.8,382.0 L867.6,384.9 L870.5,387.7 L873.4,390.5 L876.4,393.2 L879.3,395.9 L882.3,398.6 L885.4,401.2 L888.4,403.8 L891.5,406.3 L894.6,408.8 L897.8,411.2 L901.0,413.6 L904.3,415.8 L907.6,418.0 L910.9,420.2 L914.3,422.2 L917.8,424.2 L921.3,426.1 L924.8,427.9 L928.4,429.6 L932.1,431.1 L935.8,432.6 L939.6,434.0 L943.4,435.3 L947.2,436.5 L951.1,437.5 L954.9,438.4 L958.9,439.3 L962.8,440.0 L966.7,440.5 L970.7,441.0 L974.7,441.3 L978.7,441.5 L982.7,441.6 L986.7,441.6 L990.7,441.5 L994.7,441.3 L998.7,440.9 L1002.7,440.5 L1006.6,440.1 L1010.6,439.5 L1014.6,438.8 L1018.6,438.1 L1022.5,437.3 L1026.5,436.5 L1030.4,435.6 L1034.3,434.6 L1038.2,433.6 L1042.0,432.5 L1045.9,431.4 L1049.7,430.2 L1053.5,429.0 L1057.3,427.7 L1061.0,426.4 L1064.8,425.0 L1068.5,423.6 L1072.2,422.2 L1075.9,420.7 L1079.6,419.1 L1083.2,417.5 L1086.8,415.9 L1090.4,414.2 L1094.0,412.5 L1097.6,410.8 L1101.1,409.0 L1104.7,407.1 L1108.2,405.2 L1111.7,403.3 L1115.1,401.4 L1118.6,399.4 L1122.0,397.3 L1125.4,395.3 L1128.8,393.2 L1132.2,391.0 L1135.6,388.9 L1138.9,386.6 L1142.2,384.4 L1145.6,382.1 L1148.8,379.8 L1152.1,377.5 L1155.4,375.1 L1158.7,372.8 L1161.9,370.4 L1165.2,368.1 L1168.5,365.8 L1171.8,363.5 L1175.1,361.3 L1178.4,359.2 L1181.8,357.1 L1185.2,355.1 L1188.7,353.2 L1192.1,351.3 L1195.7,349.6 L1199.3,348.0 L1202.9,346.6 L1206.6,345.2 L1210.4,343.9 L1214.1,342.8 L1218.0,341.7 L1221.8,340.7 L1225.7,339.8 L1229.7,339.0 L1233.6,338.2 L1237.6,337.5 L1241.6,336.8 L1245.6,336.2 L1249.6,335.6 L1253.6,335.1 L1257.6,334.5 L1261.7,334.0 L1265.7,333.5 L1269.7,333.0 L1273.7,332.4 L1277.7,331.9 L1281.7,331.3 L1285.7,330.8 L1289.6,330.2 L1293.6,329.7 L1297.5,329.1 L1301.5,328.5 L1305.4,327.9 L1309.3,327.3 L1313.3,326.8 L1317.2,326.2 L1321.1,325.6 L1325.0,325.1 L1329.0,324.5 L1332.9,324.0 L1336.8,323.5 L1340.7,322.9 L1344.7,322.5 L1348.6,322.0 L1352.6,321.5 L1356.5,321.1 L1360.5,320.7 L1364.5,320.3 L1368.4,319.9 L1372.4,319.6 L1376.4,319.3 L1380.5,319.0 L1384.5,318.8 L1388.6,318.5 L1392.6,318.4 L1396.7,318.2" fill="none" stroke="#606060" stroke-width="7.5" stroke-linejoin="round" stroke-linecap="butt"/>
<path d="M173.8,1397.2 L177.6,1396.5 L181.5,1395.8 L185.4,1395.1 L189.3,1394.4 L193.3,1393.7 L197.2,1392.9 L201.1,1392.0 L205.0,1391.1 L208.9,1390.2 L212.8,1389.2 L216.7,1388.1 L220.6,1387.0 L224.4,1385.7 L228.2,1384.4 L232.0,1383.0 L235.7,1381.6 L239.4,1380.0 L243.0,1378.3 L246.6,1376.5 L250.1,1374.5 L253.6,1372.5 L257.0,1370.4 L260.3,1368.2 L263.5,1365.9 L266.7,1363.4 L269.8,1360.9 L272.8,1358.3 L275.7,1355.6 L278.5,1352.8 L281.1,1349.9 L283.7,1346.9 L286.2,1343.8 L288.5,1340.6 L290.7,1337.3 L292.8,1334.0 L294.7,1330.5 L296.6,1327.0 L298.3,1323.5 L299.9,1319.8 L301.5,1316.1 L302.9,1312.4 L304.2,1308.6 L305.5,1304.7 L306.7,1300.9 L307.8,1297.0 L308.8,1293.1 L309.8,1289.1 L310.8,1285.2 L311.7,1281.2 L312.6,1277.3 L313.4,1273.3 L314.2,1269.4 L315.0,1265.4 L315.7,1261.5 L316.5,1257.6 L317.2,1253.7 L317.9,1249.7 L318.5,1245.8 L319.2,1241.9 L319.8,1238.0 L320.5,1234.1 L321.1,1230.1 L321.7,1226.2 L322.3,1222.3 L322.9,1218.4 L323.5,1214.4 L324.1,1210.5 L324.7,1206.5 L325.3,1202.6 L325.9,1198.7 L326.5,1194.7 L327.0,1190.8 L327.6,1186.8 L328.2,1182.9 L328.8,1178.9 L329.3,1175.0 L329.9,1171.0 L330.5,1167.1 L331.1,1163.1 L331.7,1159.2 L332.2,1155.2 L332.8,1151.2 L333.4,1147.3 L334.0,1143.3 L334.6,1139.4 L335.2,1135.4 L335.9,1131.5 L336.5,1127.5 L337.1,1123.6 L337.7,1119.6 L338.4,1115.7 L339.0,1111.7 L339.7,1107.8 L340.4,1103.8 L341.0,1099.9 L341.7,1095.9 L342.4,1092.0 L343.2,1088.1 L343.9,1084.1 L344.6,1080.2 L345.4,1076.3 L346.2,1072.4 L346.9,1068.4 L347.7,1064.5 L348.6,1060.6 L349.4,1056.7 L350.2,1052.8 L351.1,1048.9 L352.0,1045.0 L352.8,1041.1 L353.7,1037.2 L354.6,1033.3 L355.5,1029.4 L356.4,1025.5 L357.3,1021.6 L358.2,1017.7 L359.1,1013.8 L360.1,1009.9 L361.0,1006.0 L361.9,1002.2 L362.8,998.3 L363.7,994.4 L364.6,990.5 L365.5,986.6 L366.4,982.7 L367.3,978.8 L368.2,974.9 L369.0,971.0 L369.9,967.1 L370.7,963.2 L371.5,959.3 L372.3,955.4 L373.1,951.4 L373.9,947.5 L374.7,943.6 L375.4,939.7 L376.1,935.7 L376.8,931.8 L377.5,927.9 L378.2,923.9 L378.8,920.0 L379.4,916.0 L380.1,912.1 L380.7,908.1 L381.3,904.2 L381.9,900.2 L382.5,896.2 L383.0,892.3 L383.6,888.3 L384.2,884.4 L384.8,880.4 L385.4,876.4 L386.0,872.5 L386.6,868.5 L387.2,864.6 L387.8,860.6 L388.5,856.7 L389.1,852.7 L389.8,848.8 L390.5,844.8 L391.2,840.9 L391.9,836.9 L392.6,833.0 L393.4,829.1 L394.2,825.2 L395.0,821.3 L395.8,817.3 L396.7,813.4 L397.5,809.6 L398.5,805.7 L399.4,801.8 L400.4,797.9 L401.4,794.0 L402.4,790.2 L403.4,786.3 L404.5,782.5 L405.7,778.6 L406.8,774.8 L408.0,771.0 L409.2,767.2 L410.4,763.4 L411.7,759.6 L413.0,755.8 L414.3,752.0 L415.6,748.2 L416.9,744.4 L418.2,740.7 L419.5,736.9 L420.7,733.1 L422.0,729.3 L423.2,725.5 L424.5,721.7 L425.6,717.9 L426.8,714.1 L427.9,710.2 L429.0,706.4 L430.1,702.6 L431.2,698.7 L432.2,694.9 L433.2,691.0 L434.2,687.1 L435.1,683.3 L436.0,679.4 L436.9,675.5 L437.8,671.6 L438.6,667.7 L439.4,663.8 L440.1,659.8 L440.8,655.9 L441.6,652.0 L442.2,648.0 L442.9,644.1 L443.5,640.1 L444.1,636.2 L444.7,632.2 L445.3,628.2 L445.9,624.3 L446.4,620.3 L447.0,616.3 L447.5,612.3 L448.0,608.4 L448.6,604.4 L449.1,600.4 L449.6,596.4 L450.2,592.5 L450.7,588.5 L451.2,584.6 L451.8,580.6 L452.3,576.6 L452.9,572.7 L453.4,568.7 L454.0,564.8 L454.5,560.8 L455.1,556.9 L455.6,552.9 L456.2,549.0 L456.7,545.0 L457.3,541.1 L457.8,537.1 L458.4,533.2 L458.9,529.2 L459.5,525.3 L460.0,521.3 L460.6,517.4 L461.1,513.4 L461.7,509.5 L462.2,505.5 L462.8,501.6 L463.3,497.6 L463.8,493.6 L464.4,489.7 L464.9,485.7 L465.4,481.8 L466.0,477.8 L466.5,473.8 L467.0,469.9 L467.5,465.9 L468.1,461.9 L468.6,457.9 L469.1,454.0 L469.6,450.0 L470.1,446.0 L470.6,442.0 L471.0,438.0 L471.5,434.0 L472.0,430.0 L472.5,426.0 L473.0,422.0 L473.5,418.0 L474.0,414.0 L474.6,410.1 L475.3,406.1 L476.0,402.2 L476.8,398.3 L477.7,394.4 L478.7,390.6 L479.9,386.8 L481.1,383.0 L482.5,379.3 L484.0,375.6 L485.6,371.9 L487.5,368.4 L489.6,365.4 L492.3,364.0 L495.4,364.7 L498.0,366.8 L500.1,370.0 L501.7,373.9 L503.1,378.2 L504.4,382.5 L505.6,386.8 L506.8,391.0 L507.9,395.1 L509.0,399.1 L510.0,403.0 L511.0,407.0 L511.9,410.8 L512.8,414.7 L513.7,418.5 L514.6,422.3 L515.4,426.1 L516.2,429.8 L517.0,433.6 L517.8,437.4 L518.6,441.2 L519.4,445.1 L520.2,449.0 L520.9,452.9 L521.7,456.9 L522.5,460.8 L523.2,464.8 L524.0,468.8 L524.8,472.8 L525.6,476.8 L526.4,480.8 L527.2,484.8 L528.0,488.8 L528.8,492.8 L529.7,496.7 L530.5,500.6 L531.4,504.5 L532.2,508.4 L533.1,512.2 L534.0,516.1 L534.9,519.9 L535.8,523.7 L536.7,527.5 L537.6,531.3 L538.6,535.2 L539.5,539.0 L540.4,542.8 L541.3,546.7 L542.2,550.5 L543.2,554.4 L544.1,558.3 L545.0,562.3 L545.9,566.2 L546.9,570.2 L547.8,574.1 L548.8,578.1 L549.8,582.0 L550.8,586.0 L551.9,589.9 L553.0,593.9 L554.1,597.8 L555.3,601.7 L556.5,605.5 L557.8,609.4 L559.2,613.2 L560.6,616.9 L562.2,620.6 L563.7,624.3 L565.4,627.9 L567.2,631.4 L569.0,634.9 L571.0,638.3 L573.0,641.7 L575.2,645.0 L577.4,648.2 L579.8,651.3 L582.3,654.3 L585.0,657.3 L587.7,660.1 L590.6,662.8 L593.7,665.5 L596.9,668.0 L600.1,670.4 L603.6,672.6 L607.1,674.6 L610.7,676.5 L614.3,678.1 L618.1,679.5 L621.8,680.7 L625.7,681.6 L629.5,682.2 L633.4,682.5 L637.2,682.5 L641.1,682.1 L644.9,681.4 L648.7,680.3 L652.5,678.8 L656.1,677.0 L659.8,674.9 L663.3,672.6 L666.7,670.1 L670.1,667.5 L673.3,664.8 L676.4,662.0 L679.3,659.3 L682.2,656.7 L685.2,654.2 L688.3,651.9 L691.6,649.9 L695.2,648.3 L699.0,647.0 L702.9,646.1 L706.9,645.5 L710.9,645.4 L714.8,645.7 L718.6,646.5 L722.3,647.7 L725.9,649.2 L729.3,651.2 L732.6,653.4 L735.8,655.8 L739.0,658.4 L742.1,661.2 L745.1,664.0 L748.1,666.8 L751.1,669.6 L754.0,672.4 L757.0,675.1 L759.9,677.9 L762.8,680.6 L765.7,683.3 L768.6,686.0 L771.5,688.7 L774.4,691.4 L777.4,694.1 L780.3,696.7 L783.2,699.4 L786.2,702.0 L789.1,704.6 L792.1,707.2 L795.1,709.8 L798.1,712.4 L801.2,715.0 L804.2,717.6 L807.3,720.1 L810.5,722.6 L813.6,725.1 L816.8,727.6 L820.0,730.0 L823.2,732.4 L826.4,734.8 L829.7,737.1 L833.0,739.4 L836.3,741.7 L839.7,743.9 L843.1,746.0 L846.5,748.1 L850.0,750.2 L853.4,752.1 L857.0,754.1 L860.5,756.0 L864.1,757.8 L867.7,759.5 L871.4,761.2 L875.0,762.8 L878.8,764.3 L882.5,765.8 L886.3,767.1 L890.1,768.4 L893.9,769.6 L897.7,770.6 L901.6,771.6 L905.5,772.5 L909.4,773.2 L913.3,773.8 L917.2,774.3 L921.1,774.6 L925.0,774.8 L929.0,774.9 L932.9,774.8 L936.8,774.6 L940.7,774.2 L944.6,773.7 L948.5,773.1 L952.5,772.3 L956.3,771.5 L960.2,770.5 L964.1,769.5 L968.0,768.3 L971.8,767.1 L975.6,765.7 L979.4,764.3 L983.2,762.8 L987.0,761.3 L990.7,759.7 L994.5,758.0 L998.2,756.3 L1001.8,754.6 L1005.5,752.8 L1009.1,750.9 L1012.7,749.1 L1016.2,747.2 L1019.8,745.3 L1023.3,743.3 L1026.7,741.4 L1030.2,739.3 L1033.6,737.3 L1037.0,735.2 L1040.3,733.1 L1043.6,730.9 L1046.9,728.7 L1050.2,726.5 L1053.4,724.2 L1056.6,721.9 L1059.8,719.5 L1062.9,717.2 L1066.0,714.7 L1069.1,712.3 L1072.2,709.7 L1075.2,707.2 L1078.2,704.6 L1081.2,702.0 L1084.1,699.3 L1087.0,696.5 L1089.9,693.8 L1092.8,691.0 L1095.6,688.2 L1098.5,685.3 L1101.3,682.5 L1104.1,679.6 L1106.9,676.7 L1109.7,673.9 L1112.5,671.0 L1115.3,668.1 L1118.1,665.2 L1120.9,662.3 L1123.8,659.4 L1126.6,656.6 L1129.5,653.8 L1132.3,651.0 L1135.2,648.2 L1138.2,645.5 L1141.1,642.8 L1144.1,640.1 L1147.1,637.5 L1150.1,635.0 L1153.2,632.4 L1156.3,630.0 L1159.5,627.6 L1162.7,625.2 L1165.9,622.9 L1169.2,620.6 L1172.5,618.4 L1175.8,616.2 L1179.2,614.1 L1182.6,612.0 L1186.1,609.9 L1189.6,607.9 L1193.1,606.0 L1196.7,604.1 L1200.3,602.3 L1203.9,600.5 L1207.6,598.8 L1211.3,597.1 L1215.0,595.6 L1218.7,594.0 L1222.5,592.6 L1226.3,591.3 L1230.1,590.0 L1233.9,588.8 L1237.8,587.7 L1241.6,586.7 L1245.5,585.8 L1249.4,585.0 L1253.2,584.4 L1257.1,583.8 L1261.0,583.3 L1264.9,582.9 L1268.9,582.7 L1272.8,582.5 L1276.7,582.5 L1280.6,582.7 L1284.5,582.9 L1288.3,583.3 L1292.2,583.8 L1296.1,584.5 L1299.9,585.3 L1303.8,586.2 L1307.6,587.3 L1311.4,588.5 L1315.2,589.8 L1319.0,591.2 L1322.7,592.7 L1326.5,594.2 L1330.2,595.9 L1333.9,597.6 L1337.6,599.5 L1341.2,601.3 L1344.9,603.2 L1348.5,605.2 L1352.1,607.2 L1355.6,609.2 L1359.2,611.3 L1362.7,613.3 L1366.2,615.4 L1369.7,617.4 L1373.1,619.5 L1376.5,621.5 L1379.9,623.5 L1383.2,625.5 L1386.6,627.4 L1389.8,629.3 L1393.1,631.2 L1396.3,633.0" fill="none" stroke="#0000ff" stroke-width="9.8" stroke-linejoin="round" stroke-linecap="butt" stroke-dasharray="5.7 10.8" stroke-dashoffset="0"/>
<path d="M173.7,1567.0 L177.6,1566.4 L181.6,1565.7 L185.5,1565.0 L189.4,1564.2 L193.3,1563.4 L197.3,1562.5 L201.1,1561.6 L205.0,1560.6 L208.9,1559.5 L212.7,1558.4 L216.5,1557.1 L220.2,1555.8 L224.0,1554.3 L227.6,1552.8 L231.3,1551.2 L234.9,1549.4 L238.4,1547.6 L241.9,1545.6 L245.3,1543.5 L248.7,1541.2 L251.9,1538.9 L255.1,1536.4 L258.3,1533.9 L261.3,1531.2 L264.1,1528.3 L266.9,1525.4 L269.5,1522.4 L272.0,1519.3 L274.4,1516.0 L276.5,1512.7 L278.5,1509.3 L280.4,1505.7 L282.1,1502.1 L283.6,1498.4 L285.0,1494.7 L286.4,1490.9 L287.6,1487.1 L288.8,1483.3 L290.0,1479.5 L291.1,1475.6 L292.2,1471.8 L293.2,1467.9 L294.2,1464.1 L295.1,1460.2 L296.1,1456.3 L296.9,1452.4 L297.8,1448.5 L298.6,1444.6 L299.4,1440.7 L300.2,1436.8 L300.9,1432.9 L301.7,1429.0 L302.4,1425.1 L303.0,1421.1 L303.7,1417.2 L304.3,1413.3 L305.0,1409.3 L305.6,1405.4 L306.2,1401.4 L306.8,1397.5 L307.4,1393.5 L307.9,1389.6 L308.5,1385.6 L309.1,1381.7 L309.6,1377.7 L310.2,1373.7 L310.7,1369.8 L311.3,1365.8 L311.9,1361.9 L312.4,1357.9 L313.0,1353.9 L313.6,1350.0 L314.2,1346.0 L314.8,1342.1 L315.4,1338.1 L316.1,1334.2 L316.7,1330.2 L317.4,1326.3 L318.1,1322.4 L318.8,1318.4 L319.6,1314.5 L320.3,1310.6 L321.1,1306.6 L321.9,1302.7 L322.8,1298.8 L323.6,1294.9 L324.5,1291.0 L325.5,1287.1 L326.4,1283.2 L327.4,1279.3 L328.4,1275.5 L329.4,1271.6 L330.5,1267.7 L331.6,1263.9 L332.7,1260.1 L333.9,1256.2 L335.1,1252.4 L336.3,1248.6 L337.5,1244.8 L338.8,1241.0 L340.1,1237.2 L341.4,1233.5 L342.8,1229.7 L344.2,1226.0 L345.6,1222.3 L347.1,1218.5 L348.6,1214.8 L350.1,1211.2 L351.7,1207.5 L353.3,1203.8 L354.9,1200.2 L356.6,1196.6 L358.3,1192.9 L360.0,1189.4 L361.8,1185.8 L363.7,1182.3 L365.6,1178.8 L367.6,1175.4 L369.6,1172.0 L371.7,1168.6 L373.9,1165.3 L376.2,1162.1 L378.6,1158.9 L381.0,1155.8 L383.5,1152.7 L386.1,1149.7 L388.8,1146.8 L391.6,1143.9 L394.4,1141.0 L397.2,1138.1 L399.9,1135.2 L402.6,1132.3 L405.3,1129.3 L407.8,1126.3 L410.3,1123.2 L412.6,1120.0 L414.9,1116.7 L417.0,1113.4 L419.1,1110.0 L421.1,1106.6 L422.9,1103.0 L424.7,1099.5 L426.3,1095.8 L427.9,1092.1 L429.5,1088.4 L430.9,1084.7 L432.3,1080.9 L433.7,1077.1 L435.0,1073.3 L436.3,1069.5 L437.6,1065.7 L438.8,1061.9 L440.1,1058.0 L441.2,1054.2 L442.4,1050.4 L443.5,1046.6 L444.6,1042.7 L445.7,1038.9 L446.8,1035.0 L447.8,1031.2 L448.8,1027.3 L449.8,1023.5 L450.8,1019.6 L451.8,1015.8 L452.7,1011.9 L453.7,1008.1 L454.6,1004.2 L455.5,1000.3 L456.4,996.5 L457.2,992.6 L458.1,988.7 L458.9,984.8 L459.8,980.9 L460.6,977.1 L461.4,973.2 L462.3,969.3 L463.1,965.4 L463.9,961.5 L464.7,957.6 L465.5,953.7 L466.3,949.8 L467.1,945.9 L467.9,942.0 L468.7,938.1 L469.5,934.2 L470.3,930.3 L471.1,926.4 L471.9,922.5 L472.7,918.6 L473.5,914.7 L474.3,910.7 L475.2,906.8 L476.0,902.9 L476.9,899.0 L477.7,895.1 L478.6,891.2 L479.5,887.2 L480.4,883.3 L481.3,879.4 L482.2,875.5 L483.2,871.6 L484.1,867.7 L485.1,863.7 L486.1,859.8 L487.1,855.9 L488.2,852.0 L489.2,848.1 L490.3,844.1 L491.4,840.2 L492.5,836.3 L493.7,832.4 L494.9,828.5 L496.1,824.5 L497.3,820.6 L498.6,816.8 L500.0,813.0 L501.5,809.2 L503.1,805.6 L504.9,802.2 L506.9,798.9 L509.0,795.8 L511.4,792.9 L514.0,790.3 L516.9,787.9 L520.1,785.8 L523.5,784.0 L527.0,782.6 L530.7,781.3 L534.6,780.3 L538.5,779.4 L542.5,778.5 L546.5,777.7 L550.5,776.9 L554.4,775.9 L558.3,774.7 L562.0,773.3 L565.5,771.8 L569.0,770.0 L572.4,768.1 L575.8,766.0 L579.1,763.8 L582.3,761.6 L585.6,759.3 L588.8,756.9 L592.1,754.6 L595.4,752.3 L598.8,750.1 L602.2,748.1 L605.7,746.2 L609.4,744.6 L613.1,743.2 L616.9,742.2 L620.9,741.6 L624.9,741.2 L629.0,741.2 L633.1,741.4 L637.2,741.8 L641.3,742.5 L645.3,743.4 L649.3,744.5 L653.2,745.8 L656.9,747.2 L660.6,748.7 L664.1,750.4 L667.6,752.3 L671.0,754.2 L674.2,756.3 L677.4,758.5 L680.6,760.8 L683.6,763.2 L686.6,765.7 L689.5,768.3 L692.4,771.0 L695.2,773.8 L697.9,776.6 L700.6,779.5 L703.3,782.5 L706.0,785.5 L708.6,788.5 L711.2,791.6 L713.7,794.7 L716.3,797.8 L718.8,801.0 L721.4,804.2 L723.9,807.3 L726.5,810.5 L729.0,813.7 L731.6,816.8 L734.2,820.0 L736.8,823.1 L739.4,826.2 L742.1,829.2 L744.8,832.2 L747.5,835.1 L750.3,838.0 L753.1,840.8 L756.0,843.6 L758.9,846.4 L761.8,849.1 L764.8,851.7 L767.8,854.3 L770.9,856.9 L773.9,859.4 L777.0,861.8 L780.2,864.3 L783.3,866.6 L786.5,869.0 L789.8,871.3 L793.0,873.5 L796.3,875.7 L799.6,877.9 L803.0,880.0 L806.4,882.1 L809.8,884.1 L813.2,886.1 L816.6,888.1 L820.1,890.0 L823.6,891.9 L827.1,893.7 L830.6,895.5 L834.2,897.3 L837.8,899.1 L841.4,900.8 L845.0,902.5 L848.6,904.2 L852.2,905.9 L855.8,907.6 L859.5,909.2 L863.1,911.0 L866.8,912.7 L870.4,914.4 L874.0,916.2 L877.6,918.0 L881.3,919.8 L884.9,921.7 L888.5,923.6 L892.0,925.5 L895.6,927.5 L899.2,929.4 L902.8,931.3 L906.4,933.1 L910.0,934.9 L913.6,936.6 L917.3,938.1 L921.0,939.6 L924.7,940.9 L928.5,942.1 L932.2,943.1 L936.1,944.0 L939.9,944.7 L943.8,945.2 L947.7,945.6 L951.6,945.8 L955.5,945.9 L959.5,945.9 L963.4,945.7 L967.4,945.3 L971.3,944.9 L975.3,944.3 L979.2,943.6 L983.1,942.7 L987.0,941.8 L990.9,940.7 L994.7,939.5 L998.5,938.2 L1002.3,936.8 L1006.1,935.3 L1009.8,933.7 L1013.4,931.9 L1017.1,930.1 L1020.6,928.2 L1024.1,926.3 L1027.5,924.2 L1030.9,922.0 L1034.3,919.8 L1037.5,917.5 L1040.8,915.2 L1044.0,912.8 L1047.2,910.4 L1050.3,908.0 L1053.5,905.5 L1056.6,903.1 L1059.7,900.6 L1062.9,898.2 L1066.0,895.7 L1069.2,893.3 L1072.3,890.9 L1075.5,888.6 L1078.8,886.3 L1082.0,884.0 L1085.3,881.8 L1088.6,879.6 L1091.9,877.5 L1095.3,875.3 L1098.6,873.2 L1102.0,871.0 L1105.4,868.9 L1108.8,866.8 L1112.2,864.6 L1115.6,862.4 L1119.0,860.2 L1122.4,858.0 L1125.8,855.8 L1129.3,853.7 L1132.8,851.6 L1136.3,849.6 L1139.8,847.6 L1143.3,845.8 L1146.9,844.0 L1150.5,842.4 L1154.2,840.8 L1157.9,839.5 L1161.6,838.2 L1165.4,837.2 L1169.2,836.3 L1173.1,835.6 L1177.0,835.1 L1181.0,834.7 L1184.9,834.5 L1188.9,834.5 L1192.9,834.5 L1196.9,834.8 L1201.0,835.1 L1204.9,835.6 L1208.9,836.2 L1212.9,836.9 L1216.8,837.8 L1220.7,838.7 L1224.5,839.7 L1228.4,840.8 L1232.2,841.9 L1235.9,843.2 L1239.7,844.6 L1243.4,846.0 L1247.1,847.4 L1250.7,849.0 L1254.4,850.6 L1258.0,852.3 L1261.6,854.0 L1265.2,855.7 L1268.8,857.5 L1272.3,859.4 L1275.9,861.3 L1279.4,863.2 L1282.9,865.1 L1286.4,867.1 L1289.9,869.1 L1293.4,871.1 L1296.9,873.1 L1300.3,875.1 L1303.8,877.1 L1307.2,879.1 L1310.7,881.2 L1314.2,883.2 L1317.6,885.2 L1321.1,887.1 L1324.5,889.1 L1328.0,891.1 L1331.5,893.0 L1335.0,894.9 L1338.5,896.8 L1342.0,898.7 L1345.5,900.6 L1349.0,902.4 L1352.5,904.2 L1356.1,906.0 L1359.7,907.7 L1363.3,909.4 L1366.9,911.0 L1370.5,912.7 L1374.2,914.3 L1377.9,915.8 L1381.6,917.3 L1385.3,918.7 L1389.1,920.1 L1392.9,921.5 L1396.7,922.8" fill="none" stroke="#0000ff" stroke-width="5.8" stroke-linejoin="round" stroke-linecap="butt" stroke-dasharray="25 22 6 11" stroke-dashoffset="5"/>
<path d="M173.8,1567.1 L177.6,1566.4 L181.4,1565.7 L185.2,1564.9 L189.1,1564.2 L193.1,1563.4 L197.0,1562.7 L201.0,1561.8 L204.9,1560.9 L208.9,1560.0 L212.8,1558.9 L216.8,1557.8 L220.7,1556.6 L224.5,1555.3 L228.3,1553.9 L232.0,1552.4 L235.7,1550.7 L239.3,1549.0 L242.7,1547.0 L246.1,1544.9 L249.4,1542.7 L252.6,1540.3 L255.7,1537.8 L258.7,1535.1 L261.6,1532.3 L264.3,1529.4 L267.0,1526.4 L269.6,1523.3 L272.0,1520.1 L274.4,1516.8 L276.6,1513.5 L278.7,1510.1 L280.7,1506.7 L282.6,1503.2 L284.4,1499.7 L286.1,1496.2 L287.8,1492.6 L289.3,1488.9 L290.7,1485.3 L292.0,1481.6 L293.3,1477.8 L294.5,1474.1 L295.6,1470.3 L296.7,1466.4 L297.7,1462.6 L298.6,1458.7 L299.5,1454.9 L300.3,1450.9 L301.0,1447.0 L301.8,1443.1 L302.5,1439.1 L303.1,1435.1 L303.7,1431.2 L304.3,1427.2 L304.9,1423.2 L305.4,1419.2 L305.9,1415.1 L306.4,1411.1 L306.9,1407.1 L307.4,1403.1 L307.9,1399.1 L308.4,1395.0 L308.9,1391.0 L309.5,1387.0 L310.0,1383.0 L310.5,1379.0 L311.1,1375.1 L311.7,1371.1 L312.3,1367.1 L312.9,1363.1 L313.5,1359.2 L314.1,1355.2 L314.8,1351.3 L315.4,1347.4 L316.1,1343.4 L316.8,1339.5 L317.6,1335.6 L318.3,1331.7 L319.1,1327.8 L319.8,1323.9 L320.6,1320.0 L321.4,1316.1 L322.3,1312.2 L323.1,1308.4 L324.0,1304.5 L324.9,1300.6 L325.8,1296.8 L326.7,1292.9 L327.7,1289.0 L328.6,1285.2 L329.6,1281.3 L330.6,1277.5 L331.6,1273.6 L332.7,1269.8 L333.7,1266.0 L334.8,1262.1 L335.9,1258.3 L337.1,1254.5 L338.2,1250.6 L339.4,1246.8 L340.6,1243.0 L341.8,1239.2 L343.1,1235.4 L344.3,1231.5 L345.6,1227.7 L346.9,1223.9 L348.3,1220.1 L349.7,1216.3 L351.1,1212.5 L352.5,1208.8 L354.1,1205.1 L355.6,1201.3 L357.2,1197.7 L358.9,1194.0 L360.7,1190.4 L362.5,1186.8 L364.3,1183.3 L366.3,1179.8 L368.3,1176.4 L370.4,1173.0 L372.6,1169.7 L374.8,1166.4 L377.1,1163.1 L379.3,1159.8 L381.5,1156.5 L383.7,1153.2 L385.7,1149.8 L387.7,1146.3 L389.5,1142.8 L391.2,1139.2 L392.8,1135.6 L394.3,1131.9 L395.7,1128.1 L397.1,1124.3 L398.4,1120.5 L399.7,1116.7 L400.9,1112.9 L402.2,1109.1 L403.5,1105.3 L404.7,1101.5 L405.9,1097.6 L407.2,1093.8 L408.4,1090.0 L409.6,1086.2 L410.8,1082.4 L412.0,1078.5 L413.2,1074.7 L414.4,1070.9 L415.6,1067.1 L416.7,1063.2 L417.9,1059.4 L419.0,1055.6 L420.2,1051.8 L421.3,1047.9 L422.4,1044.1 L423.5,1040.3 L424.6,1036.4 L425.7,1032.6 L426.8,1028.8 L427.9,1024.9 L428.9,1021.1 L430.0,1017.2 L431.0,1013.4 L432.0,1009.5 L433.1,1005.7 L434.1,1001.8 L435.1,998.0 L436.1,994.1 L437.0,990.2 L438.0,986.4 L439.0,982.5 L439.9,978.6 L440.8,974.8 L441.8,970.9 L442.7,967.0 L443.6,963.1 L444.5,959.2 L445.3,955.3 L446.2,951.4 L447.0,947.5 L447.9,943.6 L448.7,939.7 L449.5,935.7 L450.3,931.8 L451.1,927.9 L451.9,923.9 L452.6,920.0 L453.4,916.0 L454.1,912.1 L454.9,908.1 L455.6,904.2 L456.3,900.2 L457.0,896.2 L457.6,892.3 L458.3,888.3 L459.0,884.3 L459.6,880.3 L460.3,876.4 L460.9,872.4 L461.6,868.4 L462.2,864.5 L462.9,860.5 L463.5,856.5 L464.1,852.6 L464.7,848.6 L465.4,844.7 L466.0,840.8 L466.6,836.8 L467.2,832.9 L467.9,829.0 L468.5,825.1 L469.1,821.2 L469.8,817.4 L470.4,813.5 L471.1,809.6 L471.8,805.8 L472.4,801.9 L473.1,798.1 L473.9,794.3 L474.6,790.4 L475.4,786.5 L476.2,782.6 L477.1,778.7 L478.0,774.8 L479.0,770.8 L480.0,766.8 L481.1,762.8 L482.2,758.7 L483.5,754.6 L484.7,750.4 L486.1,746.3 L487.7,742.2 L489.4,738.4 L491.5,734.9 L493.8,731.9 L496.5,729.4 L499.5,727.7 L502.7,726.7 L506.1,726.7 L509.3,727.8 L512.4,729.6 L515.4,732.2 L518.0,735.2 L520.4,738.5 L522.7,742.0 L524.8,745.7 L526.8,749.4 L528.9,753.1 L531.1,756.7 L533.4,760.1 L535.7,763.5 L538.1,766.7 L540.7,769.8 L543.3,772.8 L546.1,775.6 L549.0,778.3 L552.0,780.8 L555.1,783.1 L558.3,785.3 L561.7,787.3 L565.2,789.1 L568.8,790.8 L572.4,792.5 L576.1,794.1 L579.8,795.6 L583.6,797.2 L587.3,798.9 L591.0,800.5 L594.6,802.3 L598.3,804.0 L601.9,805.8 L605.6,807.5 L609.2,809.2 L612.9,810.9 L616.5,812.5 L620.2,813.9 L623.9,815.3 L627.7,816.5 L631.5,817.6 L635.3,818.5 L639.2,819.2 L643.1,819.7 L647.1,820.1 L651.1,820.3 L655.2,820.5 L659.2,820.6 L663.3,820.7 L667.3,820.9 L671.4,821.0 L675.4,821.3 L679.4,821.7 L683.3,822.2 L687.2,822.8 L691.1,823.6 L695.0,824.3 L698.8,825.2 L702.6,826.2 L706.5,827.2 L710.3,828.2 L714.1,829.3 L717.9,830.5 L721.6,831.6 L725.4,832.8 L729.2,834.0 L733.0,835.2 L736.8,836.4 L740.6,837.5 L744.5,838.7 L748.3,839.8 L752.2,840.8 L756.1,841.8 L760.0,842.8 L763.9,843.7 L767.9,844.5 L771.8,845.4 L775.8,846.2 L779.7,847.0 L783.7,847.9 L787.6,848.7 L791.6,849.6 L795.5,850.5 L799.4,851.4 L803.2,852.4 L807.0,853.4 L810.8,854.6 L814.6,855.8 L818.3,857.1 L821.9,858.5 L825.5,860.0 L829.1,861.6 L832.6,863.4 L836.0,865.3 L839.3,867.3 L842.6,869.5 L845.7,871.9 L848.8,874.5 L851.9,877.1 L854.8,879.9 L857.8,882.8 L860.6,885.7 L863.5,888.7 L866.3,891.7 L869.1,894.8 L871.9,897.9 L874.6,900.9 L877.4,903.9 L880.2,906.9 L883.0,909.8 L885.8,912.6 L888.6,915.4 L891.5,918.2 L894.3,920.9 L897.2,923.5 L900.1,926.2 L903.0,928.8 L906.0,931.4 L908.9,934.0 L911.9,936.5 L914.9,939.1 L918.0,941.7 L921.0,944.2 L924.2,946.7 L927.3,949.2 L930.5,951.6 L933.8,953.8 L937.2,955.9 L940.7,957.9 L944.2,959.7 L947.9,961.3 L951.6,962.6 L955.5,963.7 L959.5,964.6 L963.5,965.2 L967.6,965.7 L971.8,965.9 L975.9,965.9 L980.0,965.7 L984.1,965.3 L988.1,964.8 L992.0,964.1 L995.9,963.2 L999.7,962.2 L1003.5,961.0 L1007.3,959.8 L1011.0,958.4 L1014.7,956.9 L1018.3,955.3 L1021.9,953.7 L1025.5,951.9 L1029.1,950.2 L1032.6,948.3 L1036.2,946.4 L1039.7,944.5 L1043.2,942.6 L1046.6,940.6 L1050.1,938.6 L1053.6,936.6 L1057.0,934.6 L1060.5,932.6 L1063.9,930.5 L1067.4,928.5 L1070.8,926.4 L1074.2,924.3 L1077.7,922.2 L1081.1,920.2 L1084.5,918.1 L1087.9,916.0 L1091.4,913.9 L1094.8,911.9 L1098.2,909.8 L1101.7,907.7 L1105.1,905.7 L1108.6,903.7 L1112.0,901.7 L1115.5,899.7 L1118.9,897.7 L1122.4,895.7 L1125.9,893.8 L1129.4,891.9 L1132.9,890.0 L1136.5,888.2 L1140.0,886.3 L1143.6,884.6 L1147.1,882.8 L1150.7,881.1 L1154.3,879.4 L1158.0,877.8 L1161.6,876.2 L1165.3,874.7 L1169.0,873.2 L1172.7,871.7 L1176.4,870.3 L1180.2,868.9 L1183.9,867.6 L1187.7,866.3 L1191.5,865.1 L1195.3,863.8 L1199.2,862.7 L1203.0,861.6 L1206.9,860.5 L1210.7,859.4 L1214.6,858.4 L1218.5,857.4 L1222.4,856.5 L1226.3,855.6 L1230.2,854.8 L1234.2,853.9 L1238.1,853.2 L1242.0,852.4 L1246.0,851.7 L1250.0,851.0 L1253.9,850.4 L1257.9,849.8 L1261.9,849.2 L1265.8,848.7 L1269.8,848.1 L1273.8,847.7 L1277.8,847.2 L1281.7,846.8 L1285.7,846.4 L1289.7,846.1 L1293.7,845.8 L1297.7,845.5 L1301.6,845.2 L1305.6,845.0 L1309.6,844.8 L1313.6,844.7 L1317.5,844.6 L1321.5,844.5 L1325.5,844.5 L1329.4,844.6 L1333.4,844.7 L1337.4,844.8 L1341.3,845.0 L1345.3,845.2 L1349.3,845.5 L1353.2,845.9 L1357.2,846.3 L1361.1,846.8 L1365.1,847.3 L1369.1,847.9 L1373.0,848.6 L1377.0,849.3 L1380.9,850.1 L1384.9,851.0 L1388.8,851.9 L1392.7,853.0 L1396.7,854.1" fill="none" stroke="#0000ff" stroke-width="5.5" stroke-linejoin="round" stroke-linecap="butt"/>
<path d="M173.7,1896.0 L177.8,1896.0 L181.9,1895.8 L186.0,1895.6 L190.0,1895.2 L194.0,1894.7 L198.0,1894.2 L201.9,1893.6 L205.8,1892.9 L209.7,1892.1 L213.5,1891.2 L217.4,1890.3 L221.2,1889.3 L225.0,1888.2 L228.8,1887.1 L232.6,1885.9 L236.4,1884.7 L240.1,1883.5 L243.9,1882.2 L247.7,1880.9 L251.5,1879.5 L255.3,1878.1 L259.1,1876.8 L262.9,1875.3 L266.7,1873.9 L270.5,1872.5 L274.3,1870.9 L278.0,1869.2 L281.5,1867.4 L284.8,1865.3 L287.9,1862.9 L290.8,1860.2 L293.4,1857.2 L295.9,1854.1 L298.3,1850.8 L300.6,1847.4 L302.8,1844.0 L305.0,1840.6 L307.2,1837.2 L309.3,1833.8 L311.3,1830.3 L313.4,1826.9 L315.3,1823.4 L317.1,1819.8 L318.9,1816.3 L320.5,1812.7 L322.1,1809.0 L323.5,1805.3 L324.8,1801.6 L325.9,1797.8 L327.0,1793.9 L328.0,1790.1 L329.0,1786.2 L329.9,1782.3 L330.7,1778.3 L331.6,1774.4 L332.5,1770.5 L333.3,1766.6 L334.1,1762.7 L335.0,1758.8 L335.8,1754.8 L336.6,1750.9 L337.4,1747.0 L338.2,1743.1 L339.0,1739.2 L339.8,1735.2 L340.5,1731.3 L341.3,1727.4 L342.1,1723.5 L342.8,1719.6 L343.6,1715.6 L344.4,1711.7 L345.1,1707.8 L345.9,1703.9 L346.6,1699.9 L347.4,1696.0 L348.1,1692.1 L348.9,1688.2 L349.6,1684.2 L350.4,1680.3 L351.1,1676.4 L351.9,1672.5 L352.7,1668.6 L353.4,1664.6 L354.2,1660.7 L355.0,1656.8 L355.8,1652.9 L356.5,1649.0 L357.3,1645.1 L358.1,1641.1 L358.9,1637.2 L359.8,1633.3 L360.6,1629.4 L361.4,1625.5 L362.2,1621.6 L363.1,1617.7 L363.9,1613.8 L364.8,1609.9 L365.6,1605.9 L366.5,1602.0 L367.3,1598.1 L368.2,1594.2 L369.1,1590.3 L369.9,1586.4 L370.8,1582.5 L371.7,1578.6 L372.6,1574.7 L373.4,1570.8 L374.3,1566.9 L375.2,1563.0 L376.1,1559.1 L377.0,1555.2 L377.8,1551.3 L378.7,1547.4 L379.6,1543.5 L380.5,1539.6 L381.4,1535.7 L382.2,1531.8 L383.1,1527.9 L384.0,1523.9 L384.8,1520.0 L385.7,1516.1 L386.5,1512.2 L387.4,1508.3 L388.2,1504.4 L389.1,1500.5 L389.9,1496.6 L390.8,1492.7 L391.6,1488.8 L392.4,1484.8 L393.2,1480.9 L394.0,1477.0 L394.8,1473.1 L395.6,1469.2 L396.4,1465.3 L397.2,1461.3 L398.0,1457.4 L398.7,1453.5 L399.5,1449.6 L400.3,1445.6 L401.0,1441.7 L401.8,1437.8 L402.5,1433.9 L403.2,1429.9 L404.0,1426.0 L404.7,1422.1 L405.4,1418.1 L406.1,1414.2 L406.8,1410.3 L407.5,1406.4 L408.2,1402.4 L408.9,1398.5 L409.6,1394.5 L410.3,1390.6 L411.0,1386.7 L411.7,1382.7 L412.3,1378.8 L413.0,1374.9 L413.7,1370.9 L414.3,1367.0 L415.0,1363.0 L415.6,1359.1 L416.3,1355.1 L416.9,1351.2 L417.6,1347.3 L418.2,1343.3 L418.8,1339.4 L419.5,1335.4 L420.1,1331.5 L420.7,1327.5 L421.3,1323.6 L421.9,1319.6 L422.5,1315.7 L423.1,1311.7 L423.8,1307.8 L424.4,1303.8 L425.0,1299.9 L425.6,1295.9 L426.1,1291.9 L426.7,1288.0 L427.3,1284.0 L427.9,1280.1 L428.5,1276.1 L429.1,1272.2 L429.7,1268.2 L430.2,1264.3 L430.8,1260.3 L431.4,1256.3 L432.0,1252.4 L432.5,1248.4 L433.1,1244.5 L433.7,1240.5 L434.2,1236.5 L434.8,1232.6 L435.3,1228.6 L435.9,1224.7 L436.5,1220.7 L437.0,1216.7 L437.6,1212.8 L438.1,1208.8 L438.7,1204.8 L439.2,1200.9 L439.8,1196.9 L440.3,1192.9 L440.9,1189.0 L441.5,1185.0 L442.0,1181.0 L442.6,1177.1 L443.1,1173.1 L443.7,1169.2 L444.3,1165.2 L444.8,1161.2 L445.4,1157.3 L446.0,1153.3 L446.6,1149.4 L447.1,1145.4 L447.7,1141.4 L448.3,1137.5 L449.0,1133.5 L449.6,1129.6 L450.2,1125.6 L450.8,1121.7 L451.5,1117.8 L452.1,1113.8 L452.8,1109.9 L453.5,1105.9 L454.1,1102.0 L454.8,1098.1 L455.6,1094.2 L456.3,1090.2 L457.0,1086.3 L457.8,1082.4 L458.5,1078.5 L459.3,1074.6 L460.1,1070.7 L460.9,1066.8 L461.7,1062.9 L462.6,1059.0 L463.4,1055.1 L464.3,1051.2 L465.2,1047.4 L466.1,1043.5 L467.0,1039.6 L468.0,1035.8 L469.0,1031.9 L470.1,1028.0 L471.4,1024.1 L472.7,1020.2 L474.3,1016.3 L476.1,1012.3 L478.2,1008.6 L480.6,1005.5 L483.5,1003.6 L486.7,1003.1 L490.1,1003.9 L493.5,1005.9 L496.6,1008.6 L499.4,1011.5 L501.9,1014.7 L504.1,1018.0 L506.1,1021.6 L507.9,1025.2 L509.6,1029.0 L511.3,1032.7 L512.9,1036.5 L514.6,1040.3 L516.4,1044.0 L518.3,1047.5 L520.4,1051.0 L522.6,1054.3 L524.9,1057.5 L527.4,1060.6 L530.0,1063.6 L532.7,1066.5 L535.5,1069.3 L538.4,1072.0 L541.5,1074.6 L544.6,1077.1 L547.8,1079.5 L551.1,1081.8 L554.4,1084.0 L557.9,1086.1 L561.4,1088.1 L565.0,1090.0 L568.6,1091.9 L572.2,1093.7 L575.9,1095.4 L579.7,1097.0 L583.4,1098.5 L587.2,1100.0 L591.0,1101.4 L594.8,1102.7 L598.6,1103.9 L602.5,1105.1 L606.2,1106.2 L610.0,1107.3 L613.8,1108.2 L617.5,1109.2 L621.3,1110.0 L625.1,1110.8 L628.9,1111.4 L632.8,1112.0 L636.7,1112.4 L640.8,1112.8 L644.8,1113.1 L649.0,1113.3 L653.1,1113.5 L657.3,1113.7 L661.5,1114.0 L665.6,1114.3 L669.7,1114.7 L673.8,1115.2 L677.7,1115.9 L681.6,1116.7 L685.4,1117.7 L689.1,1119.0 L692.7,1120.4 L696.2,1121.9 L699.6,1123.7 L702.9,1125.6 L706.1,1127.7 L709.3,1129.9 L712.3,1132.2 L715.4,1134.7 L718.3,1137.2 L721.2,1139.9 L724.0,1142.7 L726.8,1145.5 L729.6,1148.5 L732.3,1151.5 L734.9,1154.6 L737.5,1157.7 L740.1,1160.9 L742.7,1164.1 L745.3,1167.3 L747.8,1170.6 L750.3,1173.8 L752.8,1177.1 L755.3,1180.4 L757.9,1183.6 L760.4,1186.8 L762.9,1190.0 L765.4,1193.3 L767.9,1196.4 L770.5,1199.6 L773.0,1202.8 L775.6,1205.9 L778.1,1209.0 L780.7,1212.1 L783.3,1215.1 L785.9,1218.1 L788.6,1221.1 L791.2,1224.1 L793.9,1227.0 L796.6,1229.9 L799.4,1232.7 L802.2,1235.5 L805.0,1238.3 L807.8,1241.0 L810.7,1243.7 L813.6,1246.3 L816.5,1248.9 L819.5,1251.4 L822.5,1253.9 L825.6,1256.4 L828.8,1258.7 L831.9,1261.0 L835.1,1263.3 L838.4,1265.5 L841.7,1267.6 L845.1,1269.7 L848.6,1271.7 L852.1,1273.6 L855.6,1275.4 L859.2,1277.2 L862.9,1278.9 L866.6,1280.5 L870.4,1282.1 L874.2,1283.5 L878.1,1284.9 L882.0,1286.2 L885.9,1287.3 L889.8,1288.4 L893.8,1289.4 L897.8,1290.2 L901.8,1291.0 L905.8,1291.6 L909.9,1292.1 L913.9,1292.5 L917.9,1292.7 L921.9,1292.8 L925.9,1292.8 L930.0,1292.7 L934.0,1292.4 L937.9,1292.0 L941.9,1291.6 L945.8,1291.0 L949.8,1290.2 L953.7,1289.4 L957.6,1288.5 L961.4,1287.5 L965.2,1286.5 L969.0,1285.3 L972.8,1284.1 L976.5,1282.7 L980.2,1281.4 L983.9,1279.9 L987.5,1278.4 L991.2,1276.8 L994.8,1275.2 L998.4,1273.5 L1001.9,1271.7 L1005.4,1269.9 L1009.0,1268.1 L1012.5,1266.2 L1016.0,1264.3 L1019.4,1262.3 L1022.9,1260.3 L1026.3,1258.3 L1029.8,1256.2 L1033.2,1254.1 L1036.6,1252.0 L1040.1,1249.9 L1043.5,1247.8 L1046.9,1245.6 L1050.3,1243.5 L1053.7,1241.3 L1057.1,1239.2 L1060.5,1237.0 L1063.9,1234.8 L1067.3,1232.7 L1070.7,1230.6 L1074.2,1228.4 L1077.6,1226.3 L1081.0,1224.2 L1084.5,1222.2 L1087.9,1220.1 L1091.4,1218.1 L1094.9,1216.1 L1098.4,1214.2 L1101.9,1212.3 L1105.5,1210.4 L1109.0,1208.5 L1112.6,1206.7 L1116.1,1204.9 L1119.7,1203.1 L1123.3,1201.4 L1126.9,1199.7 L1130.6,1198.1 L1134.2,1196.5 L1137.9,1194.9 L1141.5,1193.4 L1145.2,1191.9 L1148.9,1190.5 L1152.6,1189.1 L1156.4,1187.7 L1160.1,1186.4 L1163.9,1185.2 L1167.7,1184.0 L1171.5,1182.8 L1175.3,1181.7 L1179.1,1180.6 L1183.0,1179.6 L1186.9,1178.6 L1190.8,1177.7 L1194.6,1176.8 L1198.6,1176.0 L1202.5,1175.3 L1206.4,1174.6 L1210.4,1173.9 L1214.3,1173.3 L1218.3,1172.7 L1222.3,1172.2 L1226.3,1171.7 L1230.3,1171.3 L1234.3,1171.0 L1238.3,1170.6 L1242.3,1170.4 L1246.3,1170.1 L1250.3,1170.0 L1254.3,1169.9 L1258.3,1169.8 L1262.3,1169.8 L1266.4,1169.8 L1270.4,1169.9 L1274.4,1170.0 L1278.4,1170.2 L1282.4,1170.4 L1286.4,1170.6 L1290.4,1171.0 L1294.4,1171.3 L1298.4,1171.7 L1302.4,1172.2 L1306.3,1172.7 L1310.3,1173.2 L1314.2,1173.8 L1318.2,1174.5 L1322.1,1175.2 L1326.0,1175.9 L1329.9,1176.7 L1333.8,1177.5 L1337.7,1178.3 L1341.6,1179.2 L1345.5,1180.0 L1349.4,1180.9 L1353.3,1181.7 L1357.2,1182.6 L1361.1,1183.4 L1365.0,1184.3 L1368.9,1185.1 L1372.8,1185.8 L1376.7,1186.5 L1380.7,1187.2 L1384.7,1187.9 L1388.6,1188.5 L1392.6,1189.0 L1396.7,1189.4" fill="none" stroke="#0000ff" stroke-width="7.5" stroke-linejoin="round" stroke-linecap="butt" stroke-dasharray="48 23" stroke-dashoffset="0"/>
<path d="M173.7,1898.4 L177.7,1898.2 L181.7,1897.9 L185.7,1897.6 L189.7,1897.2 L193.6,1896.7 L197.6,1896.3 L201.5,1895.8 L205.5,1895.2 L209.4,1894.6 L213.3,1894.0 L217.3,1893.3 L221.2,1892.5 L225.1,1891.8 L229.0,1891.0 L232.9,1890.1 L236.8,1889.3 L240.7,1888.3 L244.6,1887.4 L248.4,1886.4 L252.3,1885.3 L256.2,1884.2 L260.0,1883.1 L263.8,1881.8 L267.6,1880.5 L271.3,1879.0 L275.0,1877.5 L278.6,1875.8 L282.1,1874.0 L285.5,1872.0 L288.9,1869.9 L292.1,1867.6 L295.3,1865.2 L298.3,1862.6 L301.3,1859.9 L304.1,1857.0 L306.9,1854.1 L309.5,1851.0 L312.0,1847.8 L314.4,1844.5 L316.6,1841.2 L318.8,1837.7 L320.8,1834.2 L322.7,1830.7 L324.4,1827.1 L326.0,1823.4 L327.5,1819.7 L328.9,1816.0 L330.2,1812.2 L331.4,1808.4 L332.5,1804.6 L333.5,1800.8 L334.4,1796.9 L335.3,1793.0 L336.2,1789.1 L337.0,1785.2 L337.9,1781.3 L338.7,1777.4 L339.5,1773.5 L340.3,1769.6 L341.1,1765.6 L341.9,1761.7 L342.8,1757.8 L343.7,1753.9 L344.7,1750.1 L345.6,1746.2 L346.6,1742.3 L347.6,1738.4 L348.6,1734.6 L349.7,1730.7 L350.7,1726.9 L351.8,1723.0 L352.9,1719.2 L354.0,1715.3 L355.2,1711.5 L356.3,1707.7 L357.4,1703.9 L358.6,1700.0 L359.8,1696.2 L361.0,1692.4 L362.2,1688.6 L363.4,1684.8 L364.6,1681.0 L365.8,1677.1 L367.0,1673.3 L368.2,1669.5 L369.4,1665.7 L370.7,1661.9 L371.9,1658.1 L373.1,1654.3 L374.3,1650.5 L375.5,1646.7 L376.8,1642.9 L378.0,1639.1 L379.2,1635.3 L380.4,1631.5 L381.5,1627.7 L382.7,1623.8 L383.9,1620.0 L385.0,1616.2 L386.2,1612.4 L387.3,1608.6 L388.4,1604.7 L389.5,1600.9 L390.6,1597.1 L391.7,1593.2 L392.7,1589.4 L393.8,1585.5 L394.8,1581.7 L395.9,1577.8 L396.9,1574.0 L397.9,1570.1 L398.9,1566.3 L399.8,1562.4 L400.8,1558.6 L401.8,1554.7 L402.7,1550.8 L403.6,1547.0 L404.5,1543.1 L405.5,1539.2 L406.4,1535.3 L407.2,1531.4 L408.1,1527.6 L409.0,1523.7 L409.9,1519.8 L410.7,1515.9 L411.5,1512.0 L412.4,1508.1 L413.2,1504.2 L414.0,1500.3 L414.8,1496.4 L415.6,1492.5 L416.4,1488.6 L417.2,1484.7 L417.9,1480.8 L418.7,1476.8 L419.5,1472.9 L420.2,1469.0 L420.9,1465.1 L421.7,1461.2 L422.4,1457.2 L423.1,1453.3 L423.8,1449.4 L424.5,1445.5 L425.2,1441.5 L425.9,1437.6 L426.6,1433.7 L427.2,1429.7 L427.9,1425.8 L428.6,1421.8 L429.2,1417.9 L429.9,1414.0 L430.5,1410.0 L431.1,1406.1 L431.8,1402.1 L432.4,1398.2 L433.0,1394.2 L433.6,1390.3 L434.3,1386.3 L434.9,1382.4 L435.5,1378.4 L436.1,1374.5 L436.7,1370.5 L437.3,1366.6 L437.9,1362.6 L438.5,1358.6 L439.1,1354.7 L439.6,1350.7 L440.2,1346.8 L440.8,1342.8 L441.4,1338.9 L442.0,1334.9 L442.6,1330.9 L443.1,1327.0 L443.7,1323.0 L444.3,1319.1 L444.9,1315.1 L445.5,1311.2 L446.0,1307.2 L446.6,1303.2 L447.2,1299.3 L447.8,1295.3 L448.4,1291.4 L449.0,1287.4 L449.6,1283.5 L450.2,1279.5 L450.8,1275.6 L451.4,1271.6 L452.0,1267.7 L452.6,1263.7 L453.2,1259.8 L453.8,1255.8 L454.4,1251.9 L455.0,1247.9 L455.7,1244.0 L456.3,1240.1 L456.9,1236.1 L457.6,1232.2 L458.2,1228.2 L458.9,1224.3 L459.5,1220.4 L460.2,1216.5 L460.8,1212.5 L461.5,1208.6 L462.2,1204.7 L462.9,1200.8 L463.6,1196.8 L464.3,1192.9 L465.0,1189.0 L465.7,1185.1 L466.5,1181.2 L467.2,1177.3 L468.0,1173.4 L468.7,1169.5 L469.5,1165.6 L470.3,1161.7 L471.0,1157.8 L471.8,1153.9 L472.7,1150.0 L473.5,1146.2 L474.3,1142.3 L475.1,1138.4 L476.0,1134.5 L476.9,1130.7 L477.7,1126.8 L478.7,1122.9 L479.6,1119.0 L480.6,1115.1 L481.5,1111.2 L482.6,1107.3 L483.7,1103.4 L484.8,1099.4 L485.9,1095.4 L487.1,1091.4 L488.4,1087.4 L489.8,1083.4 L491.4,1079.6 L493.3,1076.0 L495.6,1072.8 L498.4,1070.1 L501.6,1068.1 L505.0,1067.0 L508.4,1067.0 L511.8,1067.9 L515.3,1069.6 L518.7,1071.8 L522.2,1074.4 L525.6,1077.0 L529.2,1079.5 L532.7,1081.7 L536.3,1083.4 L540.0,1084.6 L543.7,1085.5 L547.4,1086.0 L551.2,1086.3 L555.1,1086.4 L558.9,1086.4 L562.8,1086.2 L566.8,1086.1 L570.8,1086.0 L574.8,1085.8 L578.8,1085.7 L582.9,1085.6 L586.9,1085.4 L591.0,1085.3 L595.0,1085.2 L599.1,1085.0 L603.1,1084.9 L607.2,1084.7 L611.1,1084.5 L615.1,1084.3 L619.1,1084.1 L623.0,1083.9 L626.9,1083.6 L630.8,1083.2 L634.7,1082.9 L638.5,1082.4 L642.4,1081.9 L646.3,1081.3 L650.2,1080.6 L654.1,1079.8 L658.1,1078.9 L662.0,1078.0 L665.9,1077.0 L669.9,1076.0 L673.8,1075.0 L677.8,1074.1 L681.8,1073.3 L685.7,1072.5 L689.7,1071.8 L693.6,1071.3 L697.5,1071.0 L701.5,1070.8 L705.4,1070.9 L709.3,1071.2 L713.1,1071.8 L717.0,1072.6 L720.8,1073.7 L724.6,1075.0 L728.4,1076.5 L732.0,1078.2 L735.7,1080.1 L739.2,1082.1 L742.7,1084.2 L746.1,1086.4 L749.4,1088.7 L752.7,1091.1 L755.8,1093.5 L758.9,1096.0 L761.9,1098.6 L764.9,1101.3 L767.8,1104.0 L770.7,1106.7 L773.5,1109.6 L776.2,1112.4 L778.9,1115.3 L781.6,1118.3 L784.3,1121.2 L786.9,1124.2 L789.5,1127.2 L792.1,1130.3 L794.7,1133.3 L797.3,1136.4 L799.8,1139.5 L802.4,1142.5 L804.9,1145.6 L807.5,1148.7 L810.1,1151.7 L812.7,1154.7 L815.3,1157.8 L818.0,1160.8 L820.6,1163.7 L823.3,1166.7 L826.0,1169.6 L828.7,1172.6 L831.4,1175.5 L834.1,1178.4 L836.9,1181.2 L839.7,1184.1 L842.5,1186.9 L845.3,1189.7 L848.1,1192.5 L851.0,1195.3 L853.9,1198.0 L856.8,1200.7 L859.7,1203.4 L862.7,1206.1 L865.7,1208.8 L868.7,1211.4 L871.7,1214.0 L874.7,1216.6 L877.8,1219.1 L880.9,1221.7 L884.0,1224.2 L887.2,1226.6 L890.4,1229.0 L893.6,1231.4 L896.9,1233.7 L900.2,1236.0 L903.5,1238.2 L906.9,1240.3 L910.4,1242.3 L913.9,1244.3 L917.4,1246.2 L921.0,1248.0 L924.6,1249.7 L928.3,1251.3 L932.1,1252.7 L935.9,1254.1 L939.7,1255.4 L943.6,1256.6 L947.5,1257.6 L951.4,1258.6 L955.4,1259.4 L959.3,1260.1 L963.3,1260.7 L967.3,1261.1 L971.2,1261.4 L975.2,1261.6 L979.1,1261.7 L983.1,1261.6 L987.0,1261.3 L990.9,1261.0 L994.7,1260.5 L998.6,1259.9 L1002.4,1259.1 L1006.2,1258.3 L1010.0,1257.3 L1013.7,1256.3 L1017.5,1255.1 L1021.2,1253.9 L1024.9,1252.5 L1028.6,1251.1 L1032.3,1249.6 L1036.0,1248.0 L1039.6,1246.4 L1043.2,1244.6 L1046.8,1242.8 L1050.4,1241.0 L1054.0,1239.1 L1057.6,1237.2 L1061.1,1235.2 L1064.6,1233.1 L1068.2,1231.1 L1071.7,1229.0 L1075.1,1226.8 L1078.6,1224.7 L1082.1,1222.5 L1085.5,1220.4 L1089.0,1218.2 L1092.4,1216.0 L1095.8,1213.8 L1099.2,1211.7 L1102.6,1209.5 L1106.0,1207.3 L1109.4,1205.2 L1112.8,1203.1 L1116.2,1200.9 L1119.6,1198.9 L1123.0,1196.8 L1126.5,1194.8 L1129.9,1192.8 L1133.3,1190.8 L1136.8,1188.9 L1140.2,1187.0 L1143.7,1185.2 L1147.2,1183.4 L1150.7,1181.6 L1154.3,1180.0 L1157.9,1178.4 L1161.5,1176.8 L1165.1,1175.3 L1168.7,1173.9 L1172.4,1172.6 L1176.1,1171.3 L1179.9,1170.1 L1183.7,1169.0 L1187.5,1168.0 L1191.4,1167.0 L1195.2,1166.1 L1199.1,1165.3 L1203.1,1164.6 L1207.0,1164.0 L1211.0,1163.4 L1215.0,1162.9 L1219.0,1162.5 L1223.0,1162.1 L1227.0,1161.9 L1231.0,1161.7 L1235.1,1161.6 L1239.1,1161.5 L1243.1,1161.6 L1247.2,1161.7 L1251.2,1161.8 L1255.2,1162.1 L1259.3,1162.4 L1263.3,1162.8 L1267.3,1163.3 L1271.3,1163.8 L1275.2,1164.4 L1279.2,1165.1 L1283.1,1165.8 L1287.1,1166.6 L1290.9,1167.5 L1294.8,1168.5 L1298.6,1169.5 L1302.5,1170.5 L1306.3,1171.7 L1310.0,1172.9 L1313.8,1174.1 L1317.6,1175.3 L1321.3,1176.6 L1325.0,1178.0 L1328.7,1179.3 L1332.4,1180.7 L1336.2,1182.1 L1339.9,1183.5 L1343.6,1184.9 L1347.3,1186.3 L1351.0,1187.7 L1354.7,1189.1 L1358.5,1190.5 L1362.2,1191.9 L1365.9,1193.2 L1369.7,1194.6 L1373.5,1195.9 L1377.3,1197.1 L1381.1,1198.4 L1385.0,1199.5 L1388.8,1200.7 L1392.7,1201.7 L1396.7,1202.7" fill="none" stroke="#0000ff" stroke-width="7.5" stroke-linejoin="round" stroke-linecap="butt"/>
<path d="M173.7,2227.0 L177.7,2226.4 L181.7,2225.9 L185.7,2225.3 L189.6,2224.8 L193.6,2224.2 L197.5,2223.6 L201.5,2223.0 L205.4,2222.3 L209.3,2221.6 L213.2,2220.9 L217.1,2220.0 L221.0,2219.2 L224.8,2218.2 L228.6,2217.2 L232.5,2216.1 L236.3,2214.9 L240.0,2213.7 L243.8,2212.3 L247.6,2210.8 L251.3,2209.2 L255.0,2207.5 L258.6,2205.6 L262.2,2203.7 L265.7,2201.6 L269.1,2199.4 L272.4,2197.1 L275.7,2194.7 L278.8,2192.2 L281.7,2189.5 L284.5,2186.7 L287.2,2183.8 L289.7,2180.8 L292.1,2177.7 L294.4,2174.5 L296.5,2171.1 L298.6,2167.7 L300.5,2164.3 L302.2,2160.7 L303.9,2157.1 L305.5,2153.4 L307.0,2149.7 L308.4,2145.9 L309.8,2142.1 L311.0,2138.3 L312.2,2134.4 L313.3,2130.5 L314.4,2126.6 L315.4,2122.7 L316.4,2118.8 L317.3,2114.9 L318.2,2111.0 L319.1,2107.1 L319.9,2103.2 L320.7,2099.2 L321.5,2095.3 L322.3,2091.4 L323.0,2087.5 L323.8,2083.6 L324.6,2079.7 L325.3,2075.8 L326.1,2071.8 L326.9,2067.9 L327.7,2064.0 L328.5,2060.1 L329.4,2056.2 L330.2,2052.3 L331.1,2048.4 L331.9,2044.6 L332.8,2040.7 L333.7,2036.8 L334.6,2032.9 L335.6,2029.0 L336.5,2025.1 L337.4,2021.2 L338.4,2017.4 L339.3,2013.5 L340.3,2009.6 L341.3,2005.7 L342.3,2001.9 L343.3,1998.0 L344.2,1994.1 L345.2,1990.2 L346.3,1986.4 L347.3,1982.5 L348.3,1978.6 L349.3,1974.8 L350.3,1970.9 L351.3,1967.0 L352.4,1963.2 L353.4,1959.3 L354.4,1955.4 L355.5,1951.6 L356.5,1947.7 L357.5,1943.8 L358.6,1940.0 L359.6,1936.1 L360.6,1932.2 L361.6,1928.4 L362.7,1924.5 L363.7,1920.6 L364.7,1916.7 L365.7,1912.9 L366.7,1909.0 L367.7,1905.1 L368.7,1901.3 L369.7,1897.4 L370.7,1893.5 L371.7,1889.6 L372.7,1885.7 L373.6,1881.9 L374.6,1878.0 L375.5,1874.1 L376.5,1870.2 L377.4,1866.3 L378.3,1862.4 L379.2,1858.5 L380.1,1854.6 L381.0,1850.7 L381.9,1846.8 L382.8,1842.9 L383.7,1839.0 L384.5,1835.1 L385.4,1831.2 L386.2,1827.3 L387.0,1823.4 L387.9,1819.5 L388.7,1815.6 L389.5,1811.7 L390.3,1807.8 L391.1,1803.9 L391.9,1799.9 L392.7,1796.0 L393.5,1792.1 L394.3,1788.2 L395.1,1784.3 L395.8,1780.3 L396.6,1776.4 L397.3,1772.5 L398.1,1768.6 L398.8,1764.6 L399.6,1760.7 L400.3,1756.8 L401.1,1752.9 L401.8,1748.9 L402.5,1745.0 L403.3,1741.1 L404.0,1737.1 L404.7,1733.2 L405.4,1729.3 L406.1,1725.3 L406.8,1721.4 L407.6,1717.5 L408.3,1713.5 L409.0,1709.6 L409.7,1705.7 L410.4,1701.7 L411.1,1697.8 L411.8,1693.9 L412.5,1689.9 L413.2,1686.0 L413.9,1682.0 L414.6,1678.1 L415.3,1674.2 L416.0,1670.2 L416.6,1666.3 L417.3,1662.4 L418.0,1658.4 L418.7,1654.5 L419.4,1650.6 L420.1,1646.6 L420.8,1642.7 L421.5,1638.7 L422.2,1634.8 L422.9,1630.9 L423.7,1626.9 L424.4,1623.0 L425.1,1619.1 L425.8,1615.1 L426.5,1611.2 L427.2,1607.3 L427.9,1603.3 L428.7,1599.4 L429.4,1595.5 L430.1,1591.5 L430.9,1587.6 L431.6,1583.7 L432.3,1579.7 L433.1,1575.8 L433.8,1571.9 L434.6,1568.0 L435.3,1564.0 L436.1,1560.1 L436.9,1556.2 L437.6,1552.3 L438.4,1548.3 L439.2,1544.4 L440.0,1540.5 L440.7,1536.6 L441.5,1532.7 L442.3,1528.7 L443.1,1524.8 L444.0,1520.9 L444.8,1517.0 L445.6,1513.1 L446.4,1509.2 L447.3,1505.3 L448.1,1501.4 L449.0,1497.5 L449.8,1493.6 L450.7,1489.7 L451.5,1485.8 L452.4,1481.9 L453.3,1478.0 L454.2,1474.1 L455.1,1470.2 L456.0,1466.3 L456.9,1462.4 L457.9,1458.5 L458.8,1454.6 L459.7,1450.7 L460.7,1446.8 L461.6,1442.9 L462.6,1439.1 L463.6,1435.2 L464.6,1431.3 L465.6,1427.4 L466.6,1423.6 L467.6,1419.7 L468.6,1415.8 L469.7,1412.0 L470.7,1408.1 L471.9,1404.3 L473.0,1400.4 L474.2,1396.6 L475.5,1392.8 L476.8,1389.1 L478.2,1385.3 L479.7,1381.6 L481.3,1377.9 L483.0,1374.2 L484.8,1370.6 L486.7,1367.0 L488.7,1363.5 L490.8,1360.0 L493.1,1356.5 L495.5,1353.2 L498.1,1350.2 L500.9,1347.5 L503.9,1345.3 L507.1,1343.6 L510.6,1342.7 L514.3,1342.4" fill="none" stroke="#aa00aa" stroke-width="8" stroke-linejoin="round" stroke-dasharray="25 22" stroke-dashoffset="0.0"/>
<path d="M514.3,1342.4 L518.2,1342.7 L522.1,1343.5 L526.1,1344.7 L530.0,1346.2 L533.8,1347.9 L537.5,1349.7 L541.1,1351.6 L544.6,1353.6 L548.1,1355.7 L551.6,1357.7 L555.0,1359.9 L558.4,1362.0 L561.8,1364.1 L565.1,1366.3 L568.5,1368.5 L571.8,1370.6 L575.1,1372.8 L578.4,1375.0 L581.8,1377.2 L585.1,1379.3 L588.4,1381.5 L591.8,1383.6 L595.1,1385.7 L598.5,1387.8 L601.9,1389.9 L605.3,1392.0 L608.7,1394.1 L612.0,1396.2 L615.4,1398.3 L618.8,1400.4 L622.2,1402.5 L625.6,1404.5 L629.0,1406.6 L632.4,1408.7 L635.8,1410.8 L639.2,1412.9 L642.6,1415.0 L646.0,1417.1 L649.4,1419.2 L652.8,1421.4 L656.2,1423.5 L659.5,1425.7 L662.9,1427.9 L666.3,1430.1 L669.6,1432.3 L672.9,1434.5 L676.2,1436.8 L679.5,1439.0 L682.8,1441.3 L686.1,1443.6 L689.4,1445.9 L692.7,1448.3 L695.9,1450.6 L699.2,1453.0 L702.4,1455.4 L705.6,1457.8 L708.8,1460.2 L712.0,1462.7 L715.1,1465.1 L718.3,1467.6 L721.4,1470.1 L724.5,1472.6 L727.6,1475.1 L730.7,1477.7 L733.8,1480.3 L736.8,1482.8 L739.9,1485.4 L742.9,1488.1 L745.9,1490.7 L748.8,1493.4 L751.8,1496.0 L754.7,1498.7 L757.7,1501.4 L760.6,1504.2 L763.4,1506.9 L766.3,1509.7 L769.1,1512.5 L772.0,1515.3 L774.8,1518.1 L777.6,1520.9 L780.3,1523.7 L783.1,1526.6 L785.8,1529.5 L788.6,1532.3 L791.3,1535.2 L794.0,1538.1 L796.7,1541.1 L799.4,1544.0 L802.1,1546.9 L804.8,1549.9 L807.4,1552.8 L810.1,1555.8 L812.8,1558.8 L815.4,1561.8 L818.1,1564.8 L820.7,1567.8 L823.4,1570.8 L826.0,1573.8 L828.7,1576.8 L831.3,1579.8 L834.0,1582.8 L836.6,1585.9 L839.3,1588.9 L842.0,1591.9 L844.6,1595.0 L847.3,1598.0 L850.0,1601.0 L852.7,1604.0 L855.4,1607.0 L858.1,1610.0 L860.9,1612.9 L863.7,1615.9 L866.5,1618.7 L869.3,1621.6 L872.2,1624.4 L875.1,1627.1 L878.0,1629.8 L880.9,1632.5 L883.9,1635.1 L887.0,1637.6 L890.1,1640.1 L893.2,1642.5 L896.4,1644.8 L899.6,1647.1 L902.9,1649.3 L906.2,1651.3 L909.6,1653.3 L913.0,1655.3 L916.5,1657.1 L920.1,1658.8 L923.7,1660.4 L927.4,1661.9 L931.2,1663.2 L935.0,1664.5 L938.9,1665.6 L942.9,1666.7 L946.9,1667.5 L951.0,1668.2 L955.0,1668.8 L959.1,1669.2 L963.2,1669.4 L967.3,1669.4 L971.3,1669.3 L975.3,1668.9 L979.2,1668.3 L983.2,1667.6 L987.0,1666.7 L990.8,1665.6 L994.6,1664.4 L998.4,1663.0 L1002.1,1661.5 L1005.7,1659.9 L1009.3,1658.2 L1012.9,1656.4 L1016.4,1654.5 L1019.9,1652.6 L1023.4,1650.6 L1026.8,1648.6 L1030.2,1646.5 L1033.5,1644.4 L1036.9,1642.2 L1040.1,1639.9 L1043.4,1637.6 L1046.6,1635.3 L1049.8,1632.9 L1053.0,1630.5 L1056.1,1628.1 L1059.2,1625.6 L1062.3,1623.1 L1065.4,1620.5 L1068.4,1618.0 L1071.5,1615.4 L1074.5,1612.8 L1077.5,1610.1 L1080.5,1607.4 L1083.5,1604.8 L1086.4,1602.1 L1089.4,1599.4 L1092.3,1596.6 L1095.3,1593.9 L1098.2,1591.2 L1101.1,1588.4 L1104.0,1585.7 L1107.0,1582.9 L1109.9,1580.2 L1112.8,1577.4 L1115.7,1574.7 L1118.7,1572.0 L1121.6,1569.2 L1124.5,1566.5 L1127.5,1563.8 L1130.4,1561.1 L1133.4,1558.4 L1136.3,1555.7 L1139.3,1553.0 L1142.3,1550.4 L1145.3,1547.7 L1148.3,1545.1 L1151.3,1542.4 L1154.3,1539.8 L1157.4,1537.3 L1160.4,1534.7 L1163.5,1532.1 L1166.6,1529.6 L1169.6,1527.1 L1172.8,1524.6 L1175.9,1522.1 L1179.0,1519.7 L1182.2,1517.2 L1185.4,1514.9 L1188.6,1512.5 L1191.8,1510.1 L1195.1,1507.8 L1198.4,1505.5 L1201.7,1503.3 L1205.0,1501.1 L1208.3,1498.9 L1211.7,1496.7 L1215.1,1494.6 L1218.6,1492.6 L1222.0,1490.6 L1225.5,1488.6 L1229.0,1486.8 L1232.6,1485.0 L1236.2,1483.3 L1239.8,1481.7 L1243.5,1480.1 L1247.2,1478.7 L1250.9,1477.3 L1254.7,1476.1 L1258.5,1475.0 L1262.4,1474.0 L1266.3,1473.1 L1270.2,1472.3 L1274.2,1471.7 L1278.2,1471.1 L1282.2,1470.7 L1286.2,1470.4 L1290.3,1470.2 L1294.3,1470.0 L1298.4,1470.0 L1302.4,1470.0 L1306.5,1470.2 L1310.5,1470.4 L1314.5,1470.7 L1318.5,1471.0 L1322.4,1471.4 L1326.4,1471.9 L1330.3,1472.5 L1334.2,1473.1 L1338.1,1473.7 L1342.0,1474.4 L1345.9,1475.2 L1349.8,1475.9 L1353.7,1476.8 L1357.6,1477.6 L1361.4,1478.5 L1365.3,1479.3 L1369.2,1480.2 L1373.1,1481.2 L1377.0,1482.1 L1380.9,1483.0 L1384.8,1483.9 L1388.7,1484.9 L1392.7,1485.8 L1396.6,1486.7" fill="none" stroke="#aa00aa" stroke-width="8" stroke-linejoin="round" stroke-dasharray="25 22" stroke-dashoffset="12.9"/>
<path d="M173.8,2226.1 L177.6,2225.4 L181.5,2224.6 L185.4,2223.9 L189.3,2223.2 L193.2,2222.4 L197.1,2221.7 L201.1,2220.9 L205.0,2220.1 L209.0,2219.2 L212.9,2218.3 L216.8,2217.4 L220.7,2216.4 L224.6,2215.4 L228.5,2214.2 L232.3,2213.0 L236.1,2211.8 L239.9,2210.4 L243.6,2208.9 L247.3,2207.4 L250.9,2205.7 L254.4,2203.9 L257.9,2202.0 L261.3,2199.9 L264.7,2197.8 L267.9,2195.5 L271.1,2193.0 L274.2,2190.4 L277.2,2187.7 L280.1,2184.9 L282.8,2182.0 L285.4,2179.0 L287.9,2175.8 L290.3,2172.6 L292.5,2169.3 L294.6,2165.9 L296.5,2162.4 L298.2,2158.9 L299.8,2155.3 L301.3,2151.6 L302.7,2147.9 L304.0,2144.1 L305.2,2140.3 L306.3,2136.5 L307.4,2132.6 L308.4,2128.7 L309.4,2124.8 L310.3,2120.9 L311.3,2117.0 L312.2,2113.1 L313.1,2109.2 L314.0,2105.3 L314.9,2101.4 L315.8,2097.5 L316.7,2093.6 L317.5,2089.6 L318.4,2085.7 L319.2,2081.8 L320.0,2077.9 L320.8,2074.0 L321.6,2070.1 L322.4,2066.1 L323.2,2062.2 L324.0,2058.3 L324.8,2054.4 L325.5,2050.4 L326.3,2046.5 L327.0,2042.6 L327.8,2038.6 L328.5,2034.7 L329.2,2030.8 L329.9,2026.8 L330.6,2022.9 L331.3,2019.0 L332.0,2015.0 L332.7,2011.1 L333.4,2007.2 L334.1,2003.2 L334.7,1999.3 L335.4,1995.3 L336.0,1991.4 L336.7,1987.5 L337.4,1983.5 L338.0,1979.6 L338.6,1975.6 L339.3,1971.7 L339.9,1967.8 L340.6,1963.8 L341.2,1959.9 L341.8,1955.9 L342.4,1952.0 L343.1,1948.0 L343.7,1944.1 L344.3,1940.1 L344.9,1936.2 L345.5,1932.3 L346.1,1928.3 L346.8,1924.4 L347.4,1920.4 L348.0,1916.5 L348.6,1912.5 L349.2,1908.6 L349.8,1904.6 L350.4,1900.7 L351.1,1896.7 L351.7,1892.8 L352.3,1888.9 L352.9,1884.9 L353.5,1881.0 L354.2,1877.0 L354.8,1873.1 L355.4,1869.1 L356.0,1865.2 L356.7,1861.2 L357.3,1857.3 L358.0,1853.4 L358.6,1849.4 L359.3,1845.5 L359.9,1841.5 L360.6,1837.6 L361.2,1833.7 L361.9,1829.7 L362.6,1825.8 L363.3,1821.8 L364.0,1817.9 L364.6,1814.0 L365.3,1810.0 L366.1,1806.1 L366.8,1802.2 L367.5,1798.2 L368.2,1794.3 L368.9,1790.4 L369.7,1786.4 L370.4,1782.5 L371.2,1778.6 L371.9,1774.7 L372.7,1770.7 L373.4,1766.8 L374.2,1762.9 L375.0,1759.0 L375.8,1755.0 L376.5,1751.1 L377.3,1747.2 L378.1,1743.3 L378.9,1739.3 L379.7,1735.4 L380.5,1731.5 L381.3,1727.6 L382.1,1723.7 L382.9,1719.7 L383.7,1715.8 L384.5,1711.9 L385.4,1708.0 L386.2,1704.1 L387.0,1700.1 L387.8,1696.2 L388.6,1692.3 L389.5,1688.4 L390.3,1684.5 L391.1,1680.6 L391.9,1676.6 L392.8,1672.7 L393.6,1668.8 L394.4,1664.9 L395.3,1661.0 L396.1,1657.1 L396.9,1653.1 L397.7,1649.2 L398.6,1645.3 L399.4,1641.4 L400.2,1637.5 L401.0,1633.6 L401.9,1629.7 L402.7,1625.7 L403.5,1621.8 L404.3,1617.9 L405.1,1614.0 L405.9,1610.1 L406.7,1606.2 L407.5,1602.2 L408.4,1598.3 L409.2,1594.4 L410.0,1590.5 L410.7,1586.6 L411.5,1582.7 L412.3,1578.7 L413.1,1574.8 L413.9,1570.9 L414.7,1567.0 L415.4,1563.1 L416.2,1559.2 L417.0,1555.2 L417.7,1551.3 L418.5,1547.4 L419.2,1543.5 L419.9,1539.6 L420.7,1535.6 L421.4,1531.7 L422.1,1527.8 L422.8,1523.9 L423.6,1520.0 L424.3,1516.0 L424.9,1512.1 L425.6,1508.2 L426.3,1504.3 L427.0,1500.3 L427.7,1496.4 L428.3,1492.5 L429.0,1488.6 L429.6,1484.6 L430.2,1480.7 L430.9,1476.8 L431.5,1472.8 L432.1,1468.9 L432.7,1465.0 L433.3,1461.0 L433.9,1457.1 L434.4,1453.2 L435.0,1449.2 L435.6,1445.3 L436.2,1441.4 L436.7,1437.4 L437.3,1433.5 L437.9,1429.6 L438.5,1425.6 L439.1,1421.7 L439.8,1417.7 L440.4,1413.8 L441.1,1409.9 L441.8,1405.9 L442.5,1402.0 L443.2,1398.1 L444.0,1394.1 L444.8,1390.2 L445.7,1386.2 L446.6,1382.3 L447.5,1378.4 L448.5,1374.4 L449.5,1370.5 L450.6,1366.6 L451.7,1362.6 L452.9,1358.7 L454.2,1354.8 L455.5,1350.9 L456.8,1346.9 L458.3,1343.0 L459.8,1339.1 L461.4,1335.3 L463.3,1331.8 L465.3,1328.5 L467.7,1325.6 L470.4,1323.1 L473.5,1321.2 L476.9,1320.0 L480.5,1319.5 L484.1,1319.9 L487.9,1320.8 L491.6,1322.3 L495.2,1324.1 L498.8,1326.2 L502.2,1328.5 L505.5,1330.9 L508.7,1333.4 L511.8,1336.0 L514.8,1338.6 L517.8,1341.3 L520.6,1344.1 L523.5,1346.9 L526.3,1349.8 L529.1,1352.6 L531.9,1355.4 L534.8,1358.2 L537.7,1361.0 L540.6,1363.7 L543.5,1366.5 L546.4,1369.2 L549.4,1371.8 L552.4,1374.5 L555.4,1377.2 L558.4,1379.8 L561.4,1382.4 L564.4,1385.1 L567.5,1387.7 L570.5,1390.3 L573.5,1392.9 L576.6,1395.5 L579.7,1398.1 L582.7,1400.6 L585.8,1403.2 L588.8,1405.8 L591.9,1408.4 L594.9,1411.0 L597.9,1413.6 L601.0,1416.3 L604.0,1418.9 L607.0,1421.5 L610.0,1424.2 L613.0,1426.8 L615.9,1429.5 L618.9,1432.2 L621.8,1435.0 L624.7,1437.7 L627.5,1440.5 L630.4,1443.3 L633.2,1446.1 L636.0,1448.9 L638.8,1451.8 L641.6,1454.7 L644.3,1457.6 L647.0,1460.5 L649.7,1463.4 L652.4,1466.4 L655.1,1469.3 L657.7,1472.3 L660.3,1475.4 L662.9,1478.4 L665.5,1481.4 L668.1,1484.5 L670.6,1487.6 L673.2,1490.6 L675.7,1493.7 L678.2,1496.8 L680.7,1500.0 L683.2,1503.1 L685.7,1506.2 L688.2,1509.4 L690.6,1512.5 L693.1,1515.7 L695.5,1518.9 L697.9,1522.1 L700.4,1525.3 L702.8,1528.5 L705.2,1531.7 L707.6,1534.9 L710.0,1538.1 L712.4,1541.3 L714.8,1544.5 L717.1,1547.7 L719.5,1550.9 L721.9,1554.1 L724.3,1557.3 L726.6,1560.6 L729.0,1563.8 L731.4,1567.0 L733.8,1570.2 L736.1,1573.4 L738.5,1576.6 L740.9,1579.8 L743.3,1583.0 L745.7,1586.2 L748.1,1589.3 L750.5,1592.5 L752.9,1595.6 L755.3,1598.8 L757.8,1601.9 L760.3,1605.0 L762.8,1608.0 L765.3,1611.1 L767.9,1614.1 L770.5,1617.1 L773.2,1620.0 L775.9,1623.0 L778.6,1625.9 L781.4,1628.7 L784.2,1631.5 L787.1,1634.3 L790.1,1637.0 L793.1,1639.7 L796.2,1642.3 L799.3,1644.9 L802.6,1647.4 L805.8,1649.8 L809.2,1652.2 L812.6,1654.5 L816.0,1656.7 L819.5,1658.8 L823.0,1660.9 L826.6,1662.8 L830.2,1664.6 L833.9,1666.3 L837.6,1667.9 L841.3,1669.4 L845.1,1670.7 L848.9,1671.9 L852.7,1673.0 L856.5,1673.9 L860.4,1674.6 L864.2,1675.2 L868.1,1675.6 L872.0,1675.9 L875.9,1675.9 L879.8,1675.8 L883.7,1675.5 L887.6,1675.1 L891.5,1674.4 L895.4,1673.6 L899.3,1672.6 L903.1,1671.5 L906.9,1670.2 L910.7,1668.8 L914.4,1667.2 L918.0,1665.5 L921.6,1663.7 L925.2,1661.8 L928.7,1659.7 L932.1,1657.5 L935.4,1655.2 L938.7,1652.8 L941.8,1650.3 L944.9,1647.6 L947.9,1644.9 L950.8,1642.2 L953.5,1639.3 L956.2,1636.3 L958.8,1633.4 L961.4,1630.3 L963.9,1627.2 L966.4,1624.1 L968.9,1621.0 L971.3,1617.9 L973.8,1614.8 L976.3,1611.7 L978.9,1608.6 L981.5,1605.5 L984.2,1602.5 L987.0,1599.6 L1018.0,1558.0 L1049.8,1520.5 L1082.0,1497.1 L1112.7,1489.8 L1146.4,1489.8 L1202.0,1503.0 L1265.0,1513.2 L1396.6,1480.3" fill="none" stroke="#aa00aa" stroke-width="8" stroke-linejoin="round"/>
<path d="M254.9,2471.8 L258.4,2470.2 L262.0,2468.5 L265.6,2466.6 L269.1,2464.6 L272.6,2462.5 L275.9,2460.2 L279.3,2457.8 L282.5,2455.3 L285.5,2452.7 L288.5,2449.9 L291.2,2447.0 L293.8,2444.0 L296.2,2440.9 L298.4,2437.6 L300.4,2434.3 L302.3,2430.8 L304.0,2427.3 L305.6,2423.7 L307.1,2420.1 L308.5,2416.3 L309.8,2412.6 L311.0,2408.8 L312.2,2404.9 L313.3,2401.1 L314.4,2397.2 L315.5,2393.3 L316.6,2389.5 L317.7,2385.6 L318.8,2381.7 L319.9,2377.9 L321.1,2374.0 L322.2,2370.2 L323.3,2366.3 L324.5,2362.5 L325.6,2358.6 L326.7,2354.8 L327.9,2350.9 L329.0,2347.1 L330.2,2343.3 L331.3,2339.4 L332.5,2335.6 L333.6,2331.8 L334.8,2327.9 L335.9,2324.1 L337.1,2320.3 L338.2,2316.4 L339.4,2312.6 L340.5,2308.8 L341.7,2305.0 L342.8,2301.1 L343.9,2297.3 L345.1,2293.5 L346.2,2289.7 L347.3,2285.8 L348.5,2282.0 L349.6,2278.2 L350.7,2274.4 L351.8,2270.5 L352.9,2266.7 L354.0,2262.9 L355.1,2259.0 L356.2,2255.2 L357.3,2251.4 L358.4,2247.5 L359.5,2243.7 L360.5,2239.9 L361.6,2236.0 L362.7,2232.2 L363.7,2228.3 L364.8,2224.5 L365.8,2220.6 L366.8,2216.8 L367.8,2212.9 L368.9,2209.1 L369.9,2205.2 L370.9,2201.3 L371.9,2197.5 L372.8,2193.6 L373.8,2189.8 L374.8,2185.9 L375.8,2182.0 L376.7,2178.1 L377.7,2174.3 L378.7,2170.4 L379.6,2166.5 L380.5,2162.6 L381.5,2158.8 L382.4,2154.9 L383.3,2151.0 L384.2,2147.1 L385.2,2143.2 L386.1,2139.3 L387.0,2135.4 L387.9,2131.6 L388.8,2127.7 L389.6,2123.8 L390.5,2119.9 L391.4,2116.0 L392.3,2112.1 L393.1,2108.2 L394.0,2104.3 L394.9,2100.4 L395.7,2096.5 L396.6,2092.6 L397.4,2088.7 L398.2,2084.8 L399.1,2080.9 L399.9,2076.9 L400.7,2073.0 L401.5,2069.1 L402.3,2065.2 L403.2,2061.3 L404.0,2057.4 L404.8,2053.5 L405.6,2049.6 L406.4,2045.6 L407.1,2041.7 L407.9,2037.8 L408.7,2033.9 L409.5,2030.0 L410.3,2026.0 L411.0,2022.1 L411.8,2018.2 L412.6,2014.3 L413.3,2010.4 L414.1,2006.4 L414.8,2002.5 L415.6,1998.6 L416.3,1994.7 L417.1,1990.7 L417.8,1986.8 L418.5,1982.9 L419.3,1978.9 L420.0,1975.0 L420.7,1971.1 L421.5,1967.2 L422.2,1963.2 L422.9,1959.3 L423.6,1955.4 L424.3,1951.4 L425.0,1947.5 L425.8,1943.6 L426.5,1939.6 L427.2,1935.7 L427.9,1931.8 L428.6,1927.8 L429.3,1923.9 L430.0,1920.0 L430.6,1916.0 L431.3,1912.1 L432.0,1908.2 L432.7,1904.2 L433.4,1900.3 L434.1,1896.4 L434.8,1892.4 L435.4,1888.5 L436.1,1884.6 L436.8,1880.6 L437.5,1876.7 L438.1,1872.8 L438.8,1868.8 L439.5,1864.9 L440.1,1861.0 L440.8,1857.0 L441.5,1853.1 L442.1,1849.2 L442.8,1845.2 L443.5,1841.3 L444.1,1837.4 L444.8,1833.5 L445.5,1829.5 L446.1,1825.6 L446.8,1821.7 L447.5,1817.8 L448.2,1813.8 L448.9,1809.9 L449.6,1806.0 L450.4,1802.1 L451.1,1798.2 L451.9,1794.3 L452.7,1790.4 L453.5,1786.5 L454.4,1782.6 L455.2,1778.7 L456.1,1774.8 L457.1,1770.9 L458.0,1767.0 L459.0,1763.2 L460.0,1759.3 L461.1,1755.5 L462.2,1751.6 L463.3,1747.8 L464.5,1743.9 L465.7,1740.1 L466.9,1736.3 L468.2,1732.5 L469.6,1728.7 L471.0,1724.9 L472.4,1721.1 L473.9,1717.3 L475.4,1713.5 L477.0,1709.8 L478.7,1706.0 L480.4,1702.3 L482.2,1698.6 L484.1,1695.0 L486.1,1691.5 L488.3,1688.2 L490.5,1685.0 L493.0,1682.1 L495.7,1679.5 L498.5,1677.1 L501.6,1675.1 L505.0,1673.4 L508.5,1672.0 L512.2,1671.0 L516.1,1670.3 L520.1,1669.9 L524.2,1669.8 L528.4,1669.9 L532.6,1670.2 L536.7,1670.7 L540.9,1671.4 L545.0,1672.2 L549.1,1673.0 L553.2,1673.8 L557.2,1674.6 L561.2,1675.3 L565.2,1675.8 L569.1,1676.1 L573.0,1676.1 L576.8,1675.8 L580.6,1675.2 L584.3,1674.3 L587.9,1673.1 L591.5,1671.6 L595.1,1670.0 L598.5,1668.1 L601.9,1666.0 L605.3,1663.8 L608.5,1661.4 L611.7,1658.9 L614.8,1656.2 L617.8,1653.5 L620.7,1650.7 L623.5,1647.9 L626.3,1645.0 L628.9,1642.1 L631.5,1639.1 L634.0,1636.2 L636.5,1633.2 L638.9,1630.1 L641.3,1627.0 L643.6,1623.9 L646.0,1620.7 L648.4,1617.5 L650.8,1614.2 L653.2,1610.8 L655.6,1607.4 L658.1,1603.9 L660.7,1600.5 L663.3,1597.2 L666.0,1593.9 L668.8,1590.8 L671.7,1587.8 L674.7,1585.1 L677.8,1582.6 L681.1,1580.4 L684.5,1578.5 L688.1,1577.0 L691.7,1575.9 L695.4,1575.2 L699.1,1575.0 L702.8,1575.2 L706.5,1575.8 L710.0,1577.0 L713.3,1578.7 L716.6,1580.8 L719.7,1583.2 L722.7,1585.9 L725.6,1588.7 L728.3,1591.6 L731.0,1594.6 L733.5,1597.7 L736.0,1600.9 L738.4,1604.1 L740.7,1607.4 L742.9,1610.7 L745.0,1614.1 L747.1,1617.5 L749.1,1620.9 L751.1,1624.4 L753.0,1628.0 L754.9,1631.5 L756.8,1635.1 L758.6,1638.7 L760.4,1642.3 L762.2,1645.9 L764.0,1649.5 L765.8,1653.1 L767.6,1656.7 L769.4,1660.3 L771.3,1663.9 L773.1,1667.5 L775.0,1671.0 L776.9,1674.5 L778.8,1678.0 L780.7,1681.5 L782.6,1685.0 L784.6,1688.5 L786.6,1691.9 L788.6,1695.4 L790.6,1698.8 L792.6,1702.3 L794.6,1705.7 L796.7,1709.1 L798.7,1712.5 L800.8,1715.9 L802.9,1719.2 L805.0,1722.6 L807.1,1726.0 L809.2,1729.4 L811.4,1732.7 L813.5,1736.1 L815.6,1739.4 L817.8,1742.8 L819.9,1746.1 L822.1,1749.5 L824.3,1752.8 L826.4,1756.2 L828.6,1759.5 L830.8,1762.9 L833.0,1766.2 L835.2,1769.6 L837.4,1772.9 L839.6,1776.3 L841.8,1779.6 L844.0,1782.9 L846.2,1786.3 L848.5,1789.6 L850.8,1792.9 L853.0,1796.2 L855.3,1799.5 L857.6,1802.8 L860.0,1806.0 L862.3,1809.3 L864.7,1812.5 L867.1,1815.7 L869.6,1818.8 L872.0,1822.0 L874.5,1825.1 L877.1,1828.2 L879.6,1831.2 L882.2,1834.3 L884.9,1837.2 L887.6,1840.2 L890.3,1843.1 L893.0,1846.0 L895.8,1848.8 L898.7,1851.6 L901.6,1854.4 L904.5,1857.1 L907.5,1859.7 L910.5,1862.3 L913.6,1864.9 L916.8,1867.4 L920.0,1869.8 L923.2,1872.2 L926.6,1874.5 L929.9,1876.6 L933.3,1878.7 L936.8,1880.7 L940.3,1882.5 L943.9,1884.2 L947.5,1885.8 L951.2,1887.2 L954.9,1888.4 L958.6,1889.4 L962.5,1890.3 L966.3,1891.0 L970.2,1891.5 L974.1,1891.8 L978.1,1892.0 L982.1,1892.0 L986.1,1891.9 L990.1,1891.7 L994.1,1891.3 L998.2,1890.9 L1002.2,1890.3 L1006.2,1889.7 L1010.2,1889.0 L1014.2,1888.2 L1018.2,1887.3 L1022.2,1886.4 L1026.1,1885.5 L1030.1,1884.5 L1034.0,1883.4 L1037.8,1882.3 L1041.7,1881.2 L1045.6,1880.0 L1049.4,1878.8 L1053.2,1877.6 L1057.0,1876.3 L1060.8,1875.0 L1064.5,1873.7 L1068.3,1872.4 L1072.1,1871.0 L1075.8,1869.6 L1079.5,1868.2 L1083.2,1866.8 L1086.9,1865.3 L1090.7,1863.9 L1094.4,1862.4 L1098.0,1860.9 L1101.7,1859.5 L1105.4,1858.0 L1109.1,1856.5 L1112.8,1855.0 L1116.5,1853.5 L1120.2,1852.0 L1123.9,1850.5 L1127.6,1849.1 L1131.3,1847.6 L1135.0,1846.2 L1138.7,1844.7 L1142.4,1843.3 L1146.1,1841.9 L1149.9,1840.5 L1153.6,1839.2 L1157.3,1837.8 L1161.1,1836.5 L1164.9,1835.2 L1168.6,1833.9 L1172.4,1832.7 L1176.2,1831.4 L1180.0,1830.2 L1183.8,1829.0 L1187.6,1827.9 L1191.5,1826.8 L1195.3,1825.7 L1199.1,1824.6 L1203.0,1823.5 L1206.8,1822.5 L1210.7,1821.5 L1214.5,1820.6 L1218.4,1819.6 L1222.3,1818.7 L1226.2,1817.9 L1230.1,1817.0 L1234.0,1816.2 L1237.9,1815.5 L1241.8,1814.7 L1245.7,1814.0 L1249.7,1813.4 L1253.6,1812.7 L1257.5,1812.1 L1261.5,1811.6 L1265.4,1811.1 L1269.4,1810.6 L1273.4,1810.1 L1277.3,1809.7 L1281.3,1809.3 L1285.3,1809.0 L1289.3,1808.6 L1293.3,1808.3 L1297.3,1808.0 L1301.3,1807.7 L1305.3,1807.5 L1309.2,1807.2 L1313.2,1807.0 L1317.2,1806.7 L1321.2,1806.4 L1325.2,1806.2 L1329.2,1805.9 L1333.2,1805.6 L1337.2,1805.3 L1341.2,1805.0 L1345.2,1804.7 L1349.2,1804.4 L1353.2,1804.0 L1357.1,1803.6 L1361.1,1803.1 L1365.1,1802.7 L1369.0,1802.2 L1373.0,1801.6 L1376.9,1801.0 L1380.9,1800.4 L1384.8,1799.7 L1388.7,1798.9 L1392.6,1798.1 L1396.5,1797.3" fill="none" stroke="#ff0000" stroke-width="8.5" stroke-linejoin="round" stroke-linecap="butt"/>
</g>
<rect x="173.5" y="39.45" width="1223.1" height="2428.0" fill="none" stroke="#000" stroke-width="5"/>
<path d="M173.5,39.45 v-15.5 M173.5,2467.45 v15.5 M249.9,39.45 v-15.5 M249.9,2467.45 v15.5 M326.4,39.45 v-30.5 M326.4,2467.45 v30.5 M402.8,39.45 v-15.5 M402.8,2467.45 v15.5 M479.3,39.45 v-15.5 M479.3,2467.45 v15.5 M555.7,39.45 v-15.5 M555.7,2467.45 v15.5 M632.2,39.45 v-30.5 M632.2,2467.45 v30.5 M708.6,39.45 v-15.5 M708.6,2467.45 v15.5 M785.1,39.45 v-15.5 M785.1,2467.45 v15.5 M861.5,39.45 v-15.5 M861.5,2467.45 v15.5 M937.9,39.45 v-30.5 M937.9,2467.45 v30.5 M1014.4,39.45 v-15.5 M1014.4,2467.45 v15.5 M1090.8,39.45 v-15.5 M1090.8,2467.45 v15.5 M1167.3,39.45 v-15.5 M1167.3,2467.45 v15.5 M1243.7,39.45 v-30.5 M1243.7,2467.45 v30.5 M1320.2,39.45 v-15.5 M1320.2,2467.45 v15.5 M1396.6,39.45 v-15.5 M1396.6,2467.45 v15.5 M173.5,39.5 h-15.5 M1396.6,39.5 h15.5 M173.5,138.5 h-30.5 M1396.6,138.5 h30.5 M173.5,237.6 h-15.5 M1396.6,237.6 h15.5 M173.5,336.7 h-15.5 M1396.6,336.7 h15.5 M173.5,435.8 h-15.5 M1396.6,435.8 h15.5 M173.5,534.9 h-15.5 M1396.6,534.9 h15.5 M173.5,633.9 h-30.5 M1396.6,633.9 h30.5 M173.5,733.0 h-15.5 M1396.6,733.0 h15.5 M173.5,832.1 h-15.5 M1396.6,832.1 h15.5 M173.5,931.2 h-15.5 M1396.6,931.2 h15.5 M173.5,1030.2 h-15.5 M1396.6,1030.2 h15.5 M173.5,1129.3 h-30.5 M1396.6,1129.3 h30.5 M173.5,1228.4 h-15.5 M1396.6,1228.4 h15.5 M173.5,1327.5 h-15.5 M1396.6,1327.5 h15.5 M173.5,1426.6 h-15.5 M1396.6,1426.6 h15.5 M173.5,1525.7 h-15.5 M1396.6,1525.7 h15.5 M173.5,1624.7 h-30.5 M1396.6,1624.7 h30.5 M173.5,1723.8 h-15.5 M1396.6,1723.8 h15.5 M173.5,1822.9 h-15.5 M1396.6,1822.9 h15.5 M173.5,1922.0 h-15.5 M1396.6,1922.0 h15.5 M173.5,2021.0 h-15.5 M1396.6,2021.0 h15.5 M173.5,2120.1 h-30.5 M1396.6,2120.1 h30.5 M173.5,2219.2 h-15.5 M1396.6,2219.2 h15.5 M173.5,2318.3 h-15.5 M1396.6,2318.3 h15.5 M173.5,2417.4 h-15.5 M1396.6,2417.4 h15.5" stroke="#000" stroke-width="5" fill="none"/>
<line x1="1208" y1="83" x2="1377" y2="83" stroke="#606060" stroke-width="8"/>
<line x1="1208" y1="160.1" x2="1377" y2="160.1" stroke="#606060" stroke-width="8" stroke-dasharray="48 23"/>
<line x1="1208" y1="237.1" x2="1377" y2="237.1" stroke="#606060" stroke-width="10" stroke-dasharray="5.5 11"/>
<line x1="1204.5" y1="542" x2="1373.5" y2="542" stroke="#0000ff" stroke-width="10" stroke-dasharray="5.5 11"/>
<line x1="1208" y1="990.5" x2="1377" y2="990.5" stroke="#0000ff" stroke-width="5"/>
<line x1="1208" y1="1073.9" x2="1377" y2="1073.9" stroke="#0000ff" stroke-width="6" stroke-dasharray="25 22 6 11"/>
<line x1="1193" y1="1280.5" x2="1362" y2="1280.5" stroke="#0000ff" stroke-width="7" stroke-dasharray="48.5 22.5"/>
<line x1="1193" y1="1370.5" x2="1362" y2="1370.5" stroke="#0000ff" stroke-width="7"/>
<line x1="1204" y1="1685.5" x2="1373" y2="1685.5" stroke="#aa00aa" stroke-width="7"/>
<line x1="1204" y1="1762.5" x2="1373" y2="1762.5" stroke="#aa00aa" stroke-width="7" stroke-dasharray="25 22"/>
<line x1="1189" y1="1923.5" x2="1358" y2="1923.5" stroke="#ff0000" stroke-width="7"/>
<text transform="translate(917.64,108.50) scale(0.9211,1)" font-size="65" fill="#000">15Fe-500</text>
<text transform="translate(883.42,185.80) scale(0.9241,1)" font-size="65" fill="#000">15Fe-1100</text>
<text transform="translate(839.70,262.70) scale(0.8058,1)" font-size="65" fill="#000">Fe</text>
<text transform="translate(901.01,275.50) scale(0.9469,1)" font-size="47" fill="#000">3</text>
<text transform="translate(930.11,262.70) scale(0.7122,1)" font-size="65" fill="#000">O</text>
<text transform="translate(967.31,275.50) scale(1.0091,1)" font-size="47" fill="#000">4</text>
<text transform="translate(1014.79,262.70) scale(1.0776,1)" font-size="65" fill="#000">-</text>
<text transform="translate(1058.79,262.70) scale(0.9469,1)" font-size="65" fill="#000">exp.</text>
<text transform="translate(837.06,567.20) scale(0.8132,1)" font-size="65" fill="#000">Fe</text>
<text transform="translate(898.29,583.00) scale(0.8975,1)" font-size="47" fill="#000">3</text>
<text transform="translate(926.78,567.20) scale(0.6897,1)" font-size="65" fill="#000">O</text>
<text transform="translate(963.79,583.00) scale(1.0302,1)" font-size="47" fill="#000">4</text>
<text transform="translate(1011.94,567.20) scale(1.0587,1)" font-size="65" fill="#000">-</text>
<text transform="translate(1055.23,567.20) scale(0.9775,1)" font-size="65" fill="#000">sim.</text>
<text transform="translate(1046.14,1009.10) scale(0.7807,1)" font-size="65" fill="#000">Fe</text>
<text transform="translate(1112.73,978.20) scale(0.9868,1)" font-size="46" fill="#000">0</text>
<text transform="translate(1109.76,1024.30) scale(1.0000,1)" font-size="50" fill="#000">i</text>
<text transform="translate(1124.97,1027.10) scale(0.7274,1)" font-size="56.00000000000001" fill="#000">(</text>
<text transform="translate(1145.02,1024.30) scale(0.8174,1)" font-size="50" fill="#000">A</text>
<text transform="translate(1177.33,1027.10) scale(0.8217,1)" font-size="56.00000000000001" fill="#000">)</text>
<text transform="translate(1046.14,1092.00) scale(0.7807,1)" font-size="65" fill="#000">Fe</text>
<text transform="translate(1107.87,1064.50) scale(1.1276,1)" font-size="46" fill="#000">+</text>
<text transform="translate(1109.76,1107.40) scale(1.0000,1)" font-size="50" fill="#000">i</text>
<text transform="translate(1124.97,1110.20) scale(0.7274,1)" font-size="56.00000000000001" fill="#000">(</text>
<text transform="translate(1145.02,1107.40) scale(0.8174,1)" font-size="50" fill="#000">A</text>
<text transform="translate(1177.33,1110.20) scale(0.8217,1)" font-size="56.00000000000001" fill="#000">)</text>
<text transform="translate(1040.74,1305.30) scale(0.7807,1)" font-size="65" fill="#000">Fe</text>
<text transform="translate(1106.92,1273.30) scale(1.0739,1)" font-size="46" fill="#000">2+</text>
<text transform="translate(1107.06,1320.70) scale(1.0000,1)" font-size="50" fill="#000">i</text>
<text transform="translate(1122.27,1323.50) scale(0.7274,1)" font-size="56.00000000000001" fill="#000">(</text>
<text transform="translate(1140.66,1320.70) scale(0.6853,1)" font-size="50" fill="#000">C</text>
<text transform="translate(1169.23,1323.50) scale(0.8217,1)" font-size="56.00000000000001" fill="#000">)</text>
<text transform="translate(1040.74,1395.20) scale(0.7807,1)" font-size="65" fill="#000">Fe</text>
<text transform="translate(1107.54,1364.60) scale(1.0614,1)" font-size="46" fill="#000">3+</text>
<text transform="translate(1107.06,1410.90) scale(1.0000,1)" font-size="50" fill="#000">i</text>
<text transform="translate(1122.27,1413.70) scale(0.7274,1)" font-size="56.00000000000001" fill="#000">(</text>
<text transform="translate(1140.66,1410.90) scale(0.6853,1)" font-size="50" fill="#000">C</text>
<text transform="translate(1169.23,1413.70) scale(0.8217,1)" font-size="56.00000000000001" fill="#000">)</text>
<text transform="translate(1008.27,1698.50) scale(0.7925,1)" font-size="65" fill="#000">Fe</text>
<text transform="translate(1076.15,1663.30) scale(1.0532,1)" font-size="46" fill="#000">3+</text>
<text transform="translate(1071.44,1713.40) scale(0.7723,1)" font-size="50" fill="#000">Ca</text>
<text transform="translate(1125.05,1716.20) scale(0.7341,1)" font-size="56.00000000000001" fill="#000">(</text>
<text transform="translate(1145.05,1713.40) scale(1.0000,1)" font-size="50" fill="#000">I</text>
<text transform="translate(1167.93,1716.20) scale(0.8217,1)" font-size="56.00000000000001" fill="#000">)</text>
<text transform="translate(987.97,1787.40) scale(0.7925,1)" font-size="65" fill="#000">Fe</text>
<text transform="translate(1055.34,1752.70) scale(1.0635,1)" font-size="46" fill="#000">3+</text>
<text transform="translate(1051.14,1802.80) scale(0.7723,1)" font-size="50" fill="#000">Ca</text>
<text transform="translate(1104.16,1805.60) scale(0.7611,1)" font-size="56.00000000000001" fill="#000">(</text>
<text transform="translate(1124.75,1802.80) scale(1.0000,1)" font-size="50" fill="#000">I</text>
<text transform="translate(1145.05,1802.80) scale(1.0000,1)" font-size="50" fill="#000">I</text>
<text transform="translate(1167.93,1805.60) scale(0.8217,1)" font-size="56.00000000000001" fill="#000">)</text>
<text transform="translate(1051.63,1946.40) scale(0.7821,1)" font-size="65" fill="#000">Fe</text>
<text transform="translate(1113.54,1920.10) scale(1.0635,1)" font-size="46" fill="#000">3+</text>
<text transform="translate(1130.99,1961.80) scale(0.6839,1)" font-size="50" fill="#000">P</text>
<text transform="translate(487.88,312.60) scale(0.9859,1)" font-size="72" fill="#000">β</text>
<text transform="translate(563.89,435.90) scale(1.0037,1)" font-size="72" fill="#000">β</text>
<text transform="translate(607.18,435.90) scale(0.9894,1)" font-size="72" fill="#000">'</text>
<text transform="translate(732.72,522.20) scale(0.9769,1)" font-size="72" fill="#000">β</text>
<text transform="translate(774.71,522.20) scale(0.9773,1)" font-size="72" fill="#000">"</text>
<text transform="translate(212.90,974.00) scale(1.0560,1)" font-size="70" fill="#000">α</text>
<text transform="translate(1267.56,432.00) scale(1.0168,1)" font-size="70" fill="#000">γ</text>
<text transform="translate(269.48,2601.30) scale(0.9371,1)" font-size="65" fill="#000">7120</text>
<text transform="translate(575.19,2601.30) scale(0.9342,1)" font-size="65" fill="#000">7140</text>
<text transform="translate(880.55,2601.30) scale(0.9465,1)" font-size="65" fill="#000">7160</text>
<text transform="translate(1186.97,2601.30) scale(0.9385,1)" font-size="65" fill="#000">7180</text>
<text transform="translate(534.40,2689.10) scale(0.9381,1)" font-size="65" fill="#000">Photon</text>
<text transform="translate(750.30,2689.10) scale(0.9039,1)" font-size="65" fill="#000">energy,</text>
<text transform="translate(969.83,2689.10) scale(0.7861,1)" font-size="65" fill="#000">eV</text>
<text transform="translate(58,1547.3) rotate(-90) scale(0.9502,1)" font-size="67">Absorption,</text>
<text transform="translate(58,1205.6) rotate(-90) scale(0.9590,1)" font-size="67">arb.units</text>
</svg>
</body></html>
